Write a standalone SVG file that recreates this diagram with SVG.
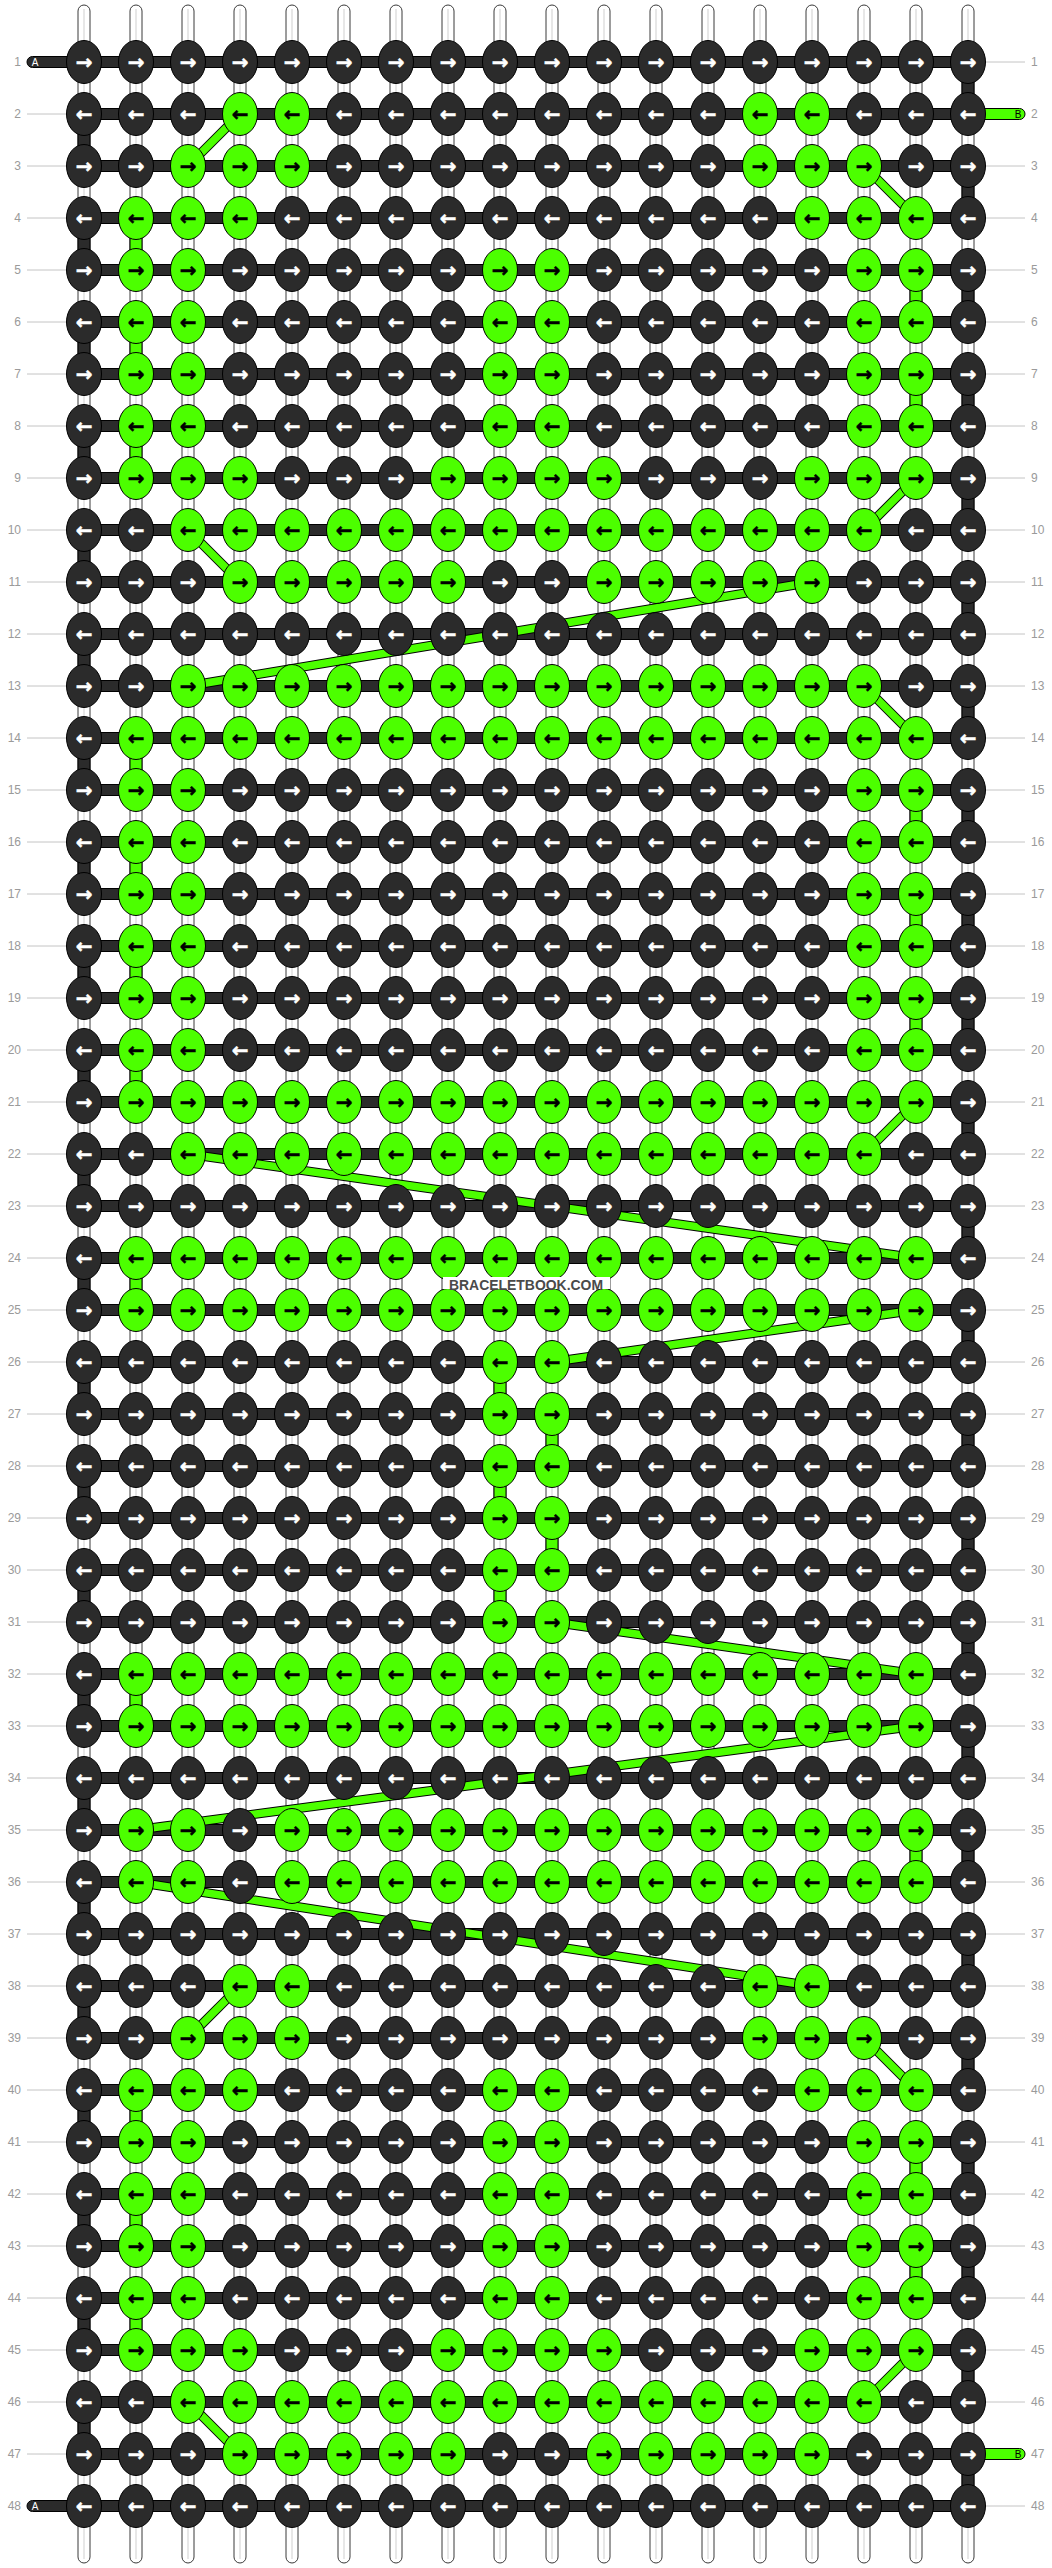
<svg xmlns="http://www.w3.org/2000/svg" width="1052" height="2568" viewBox="0 0 1052 2568">
<style>
.s{fill:#fff;stroke:#3a3a3a;stroke-width:1}
.sc{fill:none;stroke:#cfcfcf;stroke-width:1}
.bar{fill:#2b2b2b;stroke:#000;stroke-width:1}
.av{fill:#2b2b2b;stroke:#000;stroke-width:1}
.bv{fill:#4cff00;stroke:#000;stroke-width:1}
.lo{stroke:#000;stroke-width:9.5;stroke-linecap:butt}
.li{stroke:#4cff00;stroke-width:7.5;stroke-linecap:butt}
.gl{fill:none;stroke:#c4c4c4;stroke-width:1}
.lb{font:12px "Liberation Sans",Arial,sans-serif;fill:#9a9a9a}
.le{text-anchor:end}
#nodes ellipse{rx:17.5px;ry:21.5px;stroke:#000;stroke-width:1}
#nodes text{font:bold 20px "DejaVu Sans",sans-serif;text-anchor:middle;dominant-baseline:central;stroke-width:0.5px}
.d ellipse{fill:#2b2b2b}.g ellipse{fill:#4cff00}
.d text{fill:#fff;stroke:#fff}.g text{fill:#000;stroke:#000}
.tag{font:10px "Liberation Sans",Arial,sans-serif;text-anchor:middle}
</style>
<g id="labels" class="lb">
<path class="gl" d="M27 114H66M27 166H66M27 218H66M27 270H66M27 322H66M27 374H66M27 426H66M27 478H66M27 530H66M27 582H66M27 634H66M27 686H66M27 738H66M27 790H66M27 842H66M27 894H66M27 946H66M27 998H66M27 1050H66M27 1102H66M27 1154H66M27 1206H66M27 1258H66M27 1310H66M27 1362H66M27 1414H66M27 1466H66M27 1518H66M27 1570H66M27 1622H66M27 1674H66M27 1726H66M27 1778H66M27 1830H66M27 1882H66M27 1934H66M27 1986H66M27 2038H66M27 2090H66M27 2142H66M27 2194H66M27 2246H66M27 2298H66M27 2350H66M27 2402H66M27 2454H66"/>
<path class="gl" d="M986 62H1025M986 166H1025M986 218H1025M986 270H1025M986 322H1025M986 374H1025M986 426H1025M986 478H1025M986 530H1025M986 582H1025M986 634H1025M986 686H1025M986 738H1025M986 790H1025M986 842H1025M986 894H1025M986 946H1025M986 998H1025M986 1050H1025M986 1102H1025M986 1154H1025M986 1206H1025M986 1258H1025M986 1310H1025M986 1362H1025M986 1414H1025M986 1466H1025M986 1518H1025M986 1570H1025M986 1622H1025M986 1674H1025M986 1726H1025M986 1778H1025M986 1830H1025M986 1882H1025M986 1934H1025M986 1986H1025M986 2038H1025M986 2090H1025M986 2142H1025M986 2194H1025M986 2246H1025M986 2298H1025M986 2350H1025M986 2402H1025M986 2506H1025"/>
<g class="le">
<text x="21" y="66">1</text><text x="21" y="118">2</text><text x="21" y="170">3</text><text x="21" y="222">4</text><text x="21" y="274">5</text><text x="21" y="326">6</text><text x="21" y="378">7</text><text x="21" y="430">8</text><text x="21" y="482">9</text><text x="21" y="534">10</text><text x="21" y="586">11</text><text x="21" y="638">12</text><text x="21" y="690">13</text><text x="21" y="742">14</text><text x="21" y="794">15</text><text x="21" y="846">16</text><text x="21" y="898">17</text><text x="21" y="950">18</text><text x="21" y="1002">19</text><text x="21" y="1054">20</text><text x="21" y="1106">21</text><text x="21" y="1158">22</text><text x="21" y="1210">23</text><text x="21" y="1262">24</text><text x="21" y="1314">25</text><text x="21" y="1366">26</text><text x="21" y="1418">27</text><text x="21" y="1470">28</text><text x="21" y="1522">29</text><text x="21" y="1574">30</text><text x="21" y="1626">31</text><text x="21" y="1678">32</text><text x="21" y="1730">33</text><text x="21" y="1782">34</text><text x="21" y="1834">35</text><text x="21" y="1886">36</text><text x="21" y="1938">37</text><text x="21" y="1990">38</text><text x="21" y="2042">39</text><text x="21" y="2094">40</text><text x="21" y="2146">41</text><text x="21" y="2198">42</text><text x="21" y="2250">43</text><text x="21" y="2302">44</text><text x="21" y="2354">45</text><text x="21" y="2406">46</text><text x="21" y="2458">47</text><text x="21" y="2510">48</text>
</g>
<g>
<text x="1031" y="66">1</text><text x="1031" y="118">2</text><text x="1031" y="170">3</text><text x="1031" y="222">4</text><text x="1031" y="274">5</text><text x="1031" y="326">6</text><text x="1031" y="378">7</text><text x="1031" y="430">8</text><text x="1031" y="482">9</text><text x="1031" y="534">10</text><text x="1031" y="586">11</text><text x="1031" y="638">12</text><text x="1031" y="690">13</text><text x="1031" y="742">14</text><text x="1031" y="794">15</text><text x="1031" y="846">16</text><text x="1031" y="898">17</text><text x="1031" y="950">18</text><text x="1031" y="1002">19</text><text x="1031" y="1054">20</text><text x="1031" y="1106">21</text><text x="1031" y="1158">22</text><text x="1031" y="1210">23</text><text x="1031" y="1262">24</text><text x="1031" y="1314">25</text><text x="1031" y="1366">26</text><text x="1031" y="1418">27</text><text x="1031" y="1470">28</text><text x="1031" y="1522">29</text><text x="1031" y="1574">30</text><text x="1031" y="1626">31</text><text x="1031" y="1678">32</text><text x="1031" y="1730">33</text><text x="1031" y="1782">34</text><text x="1031" y="1834">35</text><text x="1031" y="1886">36</text><text x="1031" y="1938">37</text><text x="1031" y="1990">38</text><text x="1031" y="2042">39</text><text x="1031" y="2094">40</text><text x="1031" y="2146">41</text><text x="1031" y="2198">42</text><text x="1031" y="2250">43</text><text x="1031" y="2302">44</text><text x="1031" y="2354">45</text><text x="1031" y="2406">46</text><text x="1031" y="2458">47</text><text x="1031" y="2510">48</text>
</g>
</g>
<g id="strings">
<rect class="s" x="78" y="5" width="12" height="2558" rx="6"/><rect class="s" x="130" y="5" width="12" height="2558" rx="6"/><rect class="s" x="182" y="5" width="12" height="2558" rx="6"/><rect class="s" x="234" y="5" width="12" height="2558" rx="6"/><rect class="s" x="286" y="5" width="12" height="2558" rx="6"/><rect class="s" x="338" y="5" width="12" height="2558" rx="6"/><rect class="s" x="390" y="5" width="12" height="2558" rx="6"/><rect class="s" x="442" y="5" width="12" height="2558" rx="6"/><rect class="s" x="494" y="5" width="12" height="2558" rx="6"/><rect class="s" x="546" y="5" width="12" height="2558" rx="6"/><rect class="s" x="598" y="5" width="12" height="2558" rx="6"/><rect class="s" x="650" y="5" width="12" height="2558" rx="6"/><rect class="s" x="702" y="5" width="12" height="2558" rx="6"/><rect class="s" x="754" y="5" width="12" height="2558" rx="6"/><rect class="s" x="806" y="5" width="12" height="2558" rx="6"/><rect class="s" x="858" y="5" width="12" height="2558" rx="6"/><rect class="s" x="910" y="5" width="12" height="2558" rx="6"/><rect class="s" x="962" y="5" width="12" height="2558" rx="6"/>
<path class="sc" d="M84 9V2559M136 9V2559M188 9V2559M240 9V2559M292 9V2559M344 9V2559M396 9V2559M448 9V2559M500 9V2559M552 9V2559M604 9V2559M656 9V2559M708 9V2559M760 9V2559M812 9V2559M864 9V2559M916 9V2559M968 9V2559"/>
</g>
<g id="bars">
<rect class="bar" x="27" y="56.5" width="70" height="11" rx="5.5"/>
<rect class="bar" x="27" y="2500.5" width="70" height="11" rx="5.5"/>
<rect class="bv" x="950" y="108.5" width="75" height="11" rx="5.5"/>
<rect class="bv" x="950" y="2448.5" width="75" height="11" rx="5.5"/>
<rect class="bar" x="84" y="56.5" width="884" height="11"/><rect class="bar" x="84" y="108.5" width="884" height="11"/><rect class="bar" x="84" y="160.5" width="884" height="11"/><rect class="bar" x="84" y="212.5" width="884" height="11"/><rect class="bar" x="84" y="264.5" width="884" height="11"/><rect class="bar" x="84" y="316.5" width="884" height="11"/><rect class="bar" x="84" y="368.5" width="884" height="11"/><rect class="bar" x="84" y="420.5" width="884" height="11"/><rect class="bar" x="84" y="472.5" width="884" height="11"/><rect class="bar" x="84" y="524.5" width="884" height="11"/><rect class="bar" x="84" y="576.5" width="884" height="11"/><rect class="bar" x="84" y="628.5" width="884" height="11"/><rect class="bar" x="84" y="680.5" width="884" height="11"/><rect class="bar" x="84" y="732.5" width="884" height="11"/><rect class="bar" x="84" y="784.5" width="884" height="11"/><rect class="bar" x="84" y="836.5" width="884" height="11"/><rect class="bar" x="84" y="888.5" width="884" height="11"/><rect class="bar" x="84" y="940.5" width="884" height="11"/><rect class="bar" x="84" y="992.5" width="884" height="11"/><rect class="bar" x="84" y="1044.5" width="884" height="11"/><rect class="bar" x="84" y="1096.5" width="884" height="11"/><rect class="bar" x="84" y="1148.5" width="884" height="11"/><rect class="bar" x="84" y="1200.5" width="884" height="11"/><rect class="bar" x="84" y="1252.5" width="884" height="11"/><rect class="bar" x="84" y="1304.5" width="884" height="11"/><rect class="bar" x="84" y="1356.5" width="884" height="11"/><rect class="bar" x="84" y="1408.5" width="884" height="11"/><rect class="bar" x="84" y="1460.5" width="884" height="11"/><rect class="bar" x="84" y="1512.5" width="884" height="11"/><rect class="bar" x="84" y="1564.5" width="884" height="11"/><rect class="bar" x="84" y="1616.5" width="884" height="11"/><rect class="bar" x="84" y="1668.5" width="884" height="11"/><rect class="bar" x="84" y="1720.5" width="884" height="11"/><rect class="bar" x="84" y="1772.5" width="884" height="11"/><rect class="bar" x="84" y="1824.5" width="884" height="11"/><rect class="bar" x="84" y="1876.5" width="884" height="11"/><rect class="bar" x="84" y="1928.5" width="884" height="11"/><rect class="bar" x="84" y="1980.5" width="884" height="11"/><rect class="bar" x="84" y="2032.5" width="884" height="11"/><rect class="bar" x="84" y="2084.5" width="884" height="11"/><rect class="bar" x="84" y="2136.5" width="884" height="11"/><rect class="bar" x="84" y="2188.5" width="884" height="11"/><rect class="bar" x="84" y="2240.5" width="884" height="11"/><rect class="bar" x="84" y="2292.5" width="884" height="11"/><rect class="bar" x="84" y="2344.5" width="884" height="11"/><rect class="bar" x="84" y="2396.5" width="884" height="11"/><rect class="bar" x="84" y="2448.5" width="884" height="11"/><rect class="bar" x="84" y="2500.5" width="884" height="11"/>
<text class="tag" x="35" y="65.5" fill="#fff">A</text>
<text class="tag" x="35" y="2509.5" fill="#fff">A</text>
<text class="tag" x="1018" y="117.5" fill="#000">B</text>
<text class="tag" x="1018" y="2457.5" fill="#000">B</text>
</g>
<g id="connectors">
<g id="turnsA">
<rect class="av" x="962" y="62" width="12" height="52"/><rect class="av" x="962" y="166" width="12" height="52"/><rect class="av" x="962" y="270" width="12" height="52"/><rect class="av" x="962" y="374" width="12" height="52"/><rect class="av" x="962" y="478" width="12" height="52"/><rect class="av" x="962" y="582" width="12" height="52"/><rect class="av" x="962" y="686" width="12" height="52"/><rect class="av" x="962" y="790" width="12" height="52"/><rect class="av" x="962" y="894" width="12" height="52"/><rect class="av" x="962" y="998" width="12" height="52"/><rect class="av" x="962" y="1102" width="12" height="52"/><rect class="av" x="962" y="1206" width="12" height="52"/><rect class="av" x="962" y="1310" width="12" height="52"/><rect class="av" x="962" y="1414" width="12" height="52"/><rect class="av" x="962" y="1518" width="12" height="52"/><rect class="av" x="962" y="1622" width="12" height="52"/><rect class="av" x="962" y="1726" width="12" height="52"/><rect class="av" x="962" y="1830" width="12" height="52"/><rect class="av" x="962" y="1934" width="12" height="52"/><rect class="av" x="962" y="2038" width="12" height="52"/><rect class="av" x="962" y="2142" width="12" height="52"/><rect class="av" x="962" y="2246" width="12" height="52"/><rect class="av" x="962" y="2350" width="12" height="52"/><rect class="av" x="962" y="2454" width="12" height="52"/>
<rect class="av" x="78" y="114" width="12" height="52"/><rect class="av" x="78" y="218" width="12" height="52"/><rect class="av" x="78" y="322" width="12" height="52"/><rect class="av" x="78" y="426" width="12" height="52"/><rect class="av" x="78" y="530" width="12" height="52"/><rect class="av" x="78" y="634" width="12" height="52"/><rect class="av" x="78" y="738" width="12" height="52"/><rect class="av" x="78" y="842" width="12" height="52"/><rect class="av" x="78" y="946" width="12" height="52"/><rect class="av" x="78" y="1050" width="12" height="52"/><rect class="av" x="78" y="1154" width="12" height="52"/><rect class="av" x="78" y="1258" width="12" height="52"/><rect class="av" x="78" y="1362" width="12" height="52"/><rect class="av" x="78" y="1466" width="12" height="52"/><rect class="av" x="78" y="1570" width="12" height="52"/><rect class="av" x="78" y="1674" width="12" height="52"/><rect class="av" x="78" y="1778" width="12" height="52"/><rect class="av" x="78" y="1882" width="12" height="52"/><rect class="av" x="78" y="1986" width="12" height="52"/><rect class="av" x="78" y="2090" width="12" height="52"/><rect class="av" x="78" y="2194" width="12" height="52"/><rect class="av" x="78" y="2298" width="12" height="52"/><rect class="av" x="78" y="2402" width="12" height="52"/>
</g>
<g id="turnsB">
<rect class="bv" x="130" y="218" width="12" height="52"/><rect class="bv" x="130" y="322" width="12" height="52"/><rect class="bv" x="130" y="426" width="12" height="52"/><rect class="bv" x="130" y="738" width="12" height="52"/><rect class="bv" x="130" y="842" width="12" height="52"/><rect class="bv" x="130" y="946" width="12" height="52"/><rect class="bv" x="130" y="1050" width="12" height="52"/><rect class="bv" x="130" y="1258" width="12" height="52"/><rect class="bv" x="130" y="1674" width="12" height="52"/><rect class="bv" x="130" y="2090" width="12" height="52"/><rect class="bv" x="130" y="2194" width="12" height="52"/><rect class="bv" x="130" y="2298" width="12" height="52"/>
<rect class="bv" x="910" y="270" width="12" height="52"/><rect class="bv" x="910" y="374" width="12" height="52"/><rect class="bv" x="910" y="790" width="12" height="52"/><rect class="bv" x="910" y="894" width="12" height="52"/><rect class="bv" x="910" y="998" width="12" height="52"/><rect class="bv" x="910" y="1830" width="12" height="52"/><rect class="bv" x="910" y="2142" width="12" height="52"/><rect class="bv" x="910" y="2246" width="12" height="52"/>
<rect class="bv" x="494" y="1362" width="12" height="52"/><rect class="bv" x="494" y="1466" width="12" height="52"/><rect class="bv" x="494" y="1570" width="12" height="52"/>
<rect class="bv" x="546" y="1414" width="12" height="52"/><rect class="bv" x="546" y="1518" width="12" height="52"/>
</g>
<g id="diagonals">
<g id="c1"><line class="lo" x1="240" y1="114" x2="188" y2="166"/><line class="li" x1="240" y1="114" x2="188" y2="166"/></g>
<g id="c2"><line class="lo" x1="864" y1="166" x2="916" y2="218"/><line class="li" x1="864" y1="166" x2="916" y2="218"/></g>
<g id="c3"><line class="lo" x1="916" y1="478" x2="864" y2="530"/><line class="li" x1="916" y1="478" x2="864" y2="530"/></g>
<g id="c4"><line class="lo" x1="188" y1="530" x2="240" y2="582"/><line class="li" x1="188" y1="530" x2="240" y2="582"/></g>
<g id="c5"><line class="lo" x1="812" y1="582" x2="188" y2="686"/><line class="li" x1="812" y1="582" x2="188" y2="686"/></g>
<g id="c6"><line class="lo" x1="864" y1="686" x2="916" y2="738"/><line class="li" x1="864" y1="686" x2="916" y2="738"/></g>
<g id="c7"><line class="lo" x1="916" y1="1102" x2="864" y2="1154"/><line class="li" x1="916" y1="1102" x2="864" y2="1154"/></g>
<g id="c8"><line class="lo" x1="188" y1="1154" x2="916" y2="1258"/><line class="li" x1="188" y1="1154" x2="916" y2="1258"/></g>
<g id="c9"><line class="lo" x1="916" y1="1310" x2="552" y2="1362"/><line class="li" x1="916" y1="1310" x2="552" y2="1362"/></g>
<g id="c10"><line class="lo" x1="552" y1="1622" x2="916" y2="1674"/><line class="li" x1="552" y1="1622" x2="916" y2="1674"/></g>
<g id="c11"><line class="lo" x1="916" y1="1726" x2="136" y2="1830"/><line class="li" x1="916" y1="1726" x2="136" y2="1830"/></g>
<g id="c12"><line class="lo" x1="136" y1="1882" x2="812" y2="1986"/><line class="li" x1="136" y1="1882" x2="812" y2="1986"/></g>
<g id="c13"><line class="lo" x1="240" y1="1986" x2="188" y2="2038"/><line class="li" x1="240" y1="1986" x2="188" y2="2038"/></g>
<g id="c14"><line class="lo" x1="864" y1="2038" x2="916" y2="2090"/><line class="li" x1="864" y1="2038" x2="916" y2="2090"/></g>
<g id="c15"><line class="lo" x1="916" y1="2350" x2="864" y2="2402"/><line class="li" x1="916" y1="2350" x2="864" y2="2402"/></g>
<g id="c16"><line class="lo" x1="188" y1="2402" x2="240" y2="2454"/><line class="li" x1="188" y1="2402" x2="240" y2="2454"/></g>
</g>
</g>
<g id="nodes">
<g id="row1" transform="translate(0,62)"><g id="n1-1" class="d" transform="translate(84)"><ellipse/><text>→</text></g><g id="n1-2" class="d" transform="translate(136)"><ellipse/><text>→</text></g><g id="n1-3" class="d" transform="translate(188)"><ellipse/><text>→</text></g><g id="n1-4" class="d" transform="translate(240)"><ellipse/><text>→</text></g><g id="n1-5" class="d" transform="translate(292)"><ellipse/><text>→</text></g><g id="n1-6" class="d" transform="translate(344)"><ellipse/><text>→</text></g><g id="n1-7" class="d" transform="translate(396)"><ellipse/><text>→</text></g><g id="n1-8" class="d" transform="translate(448)"><ellipse/><text>→</text></g><g id="n1-9" class="d" transform="translate(500)"><ellipse/><text>→</text></g><g id="n1-10" class="d" transform="translate(552)"><ellipse/><text>→</text></g><g id="n1-11" class="d" transform="translate(604)"><ellipse/><text>→</text></g><g id="n1-12" class="d" transform="translate(656)"><ellipse/><text>→</text></g><g id="n1-13" class="d" transform="translate(708)"><ellipse/><text>→</text></g><g id="n1-14" class="d" transform="translate(760)"><ellipse/><text>→</text></g><g id="n1-15" class="d" transform="translate(812)"><ellipse/><text>→</text></g><g id="n1-16" class="d" transform="translate(864)"><ellipse/><text>→</text></g><g id="n1-17" class="d" transform="translate(916)"><ellipse/><text>→</text></g><g id="n1-18" class="d" transform="translate(968)"><ellipse/><text>→</text></g></g>
<g id="row2" transform="translate(0,114)"><g id="n2-1" class="d" transform="translate(84)"><ellipse/><text>←</text></g><g id="n2-2" class="d" transform="translate(136)"><ellipse/><text>←</text></g><g id="n2-3" class="d" transform="translate(188)"><ellipse/><text>←</text></g><g id="n2-4" class="g" transform="translate(240)"><ellipse/><text>←</text></g><g id="n2-5" class="g" transform="translate(292)"><ellipse/><text>←</text></g><g id="n2-6" class="d" transform="translate(344)"><ellipse/><text>←</text></g><g id="n2-7" class="d" transform="translate(396)"><ellipse/><text>←</text></g><g id="n2-8" class="d" transform="translate(448)"><ellipse/><text>←</text></g><g id="n2-9" class="d" transform="translate(500)"><ellipse/><text>←</text></g><g id="n2-10" class="d" transform="translate(552)"><ellipse/><text>←</text></g><g id="n2-11" class="d" transform="translate(604)"><ellipse/><text>←</text></g><g id="n2-12" class="d" transform="translate(656)"><ellipse/><text>←</text></g><g id="n2-13" class="d" transform="translate(708)"><ellipse/><text>←</text></g><g id="n2-14" class="g" transform="translate(760)"><ellipse/><text>←</text></g><g id="n2-15" class="g" transform="translate(812)"><ellipse/><text>←</text></g><g id="n2-16" class="d" transform="translate(864)"><ellipse/><text>←</text></g><g id="n2-17" class="d" transform="translate(916)"><ellipse/><text>←</text></g><g id="n2-18" class="d" transform="translate(968)"><ellipse/><text>←</text></g></g>
<g id="row3" transform="translate(0,166)"><g id="n3-1" class="d" transform="translate(84)"><ellipse/><text>→</text></g><g id="n3-2" class="d" transform="translate(136)"><ellipse/><text>→</text></g><g id="n3-3" class="g" transform="translate(188)"><ellipse/><text>→</text></g><g id="n3-4" class="g" transform="translate(240)"><ellipse/><text>→</text></g><g id="n3-5" class="g" transform="translate(292)"><ellipse/><text>→</text></g><g id="n3-6" class="d" transform="translate(344)"><ellipse/><text>→</text></g><g id="n3-7" class="d" transform="translate(396)"><ellipse/><text>→</text></g><g id="n3-8" class="d" transform="translate(448)"><ellipse/><text>→</text></g><g id="n3-9" class="d" transform="translate(500)"><ellipse/><text>→</text></g><g id="n3-10" class="d" transform="translate(552)"><ellipse/><text>→</text></g><g id="n3-11" class="d" transform="translate(604)"><ellipse/><text>→</text></g><g id="n3-12" class="d" transform="translate(656)"><ellipse/><text>→</text></g><g id="n3-13" class="d" transform="translate(708)"><ellipse/><text>→</text></g><g id="n3-14" class="g" transform="translate(760)"><ellipse/><text>→</text></g><g id="n3-15" class="g" transform="translate(812)"><ellipse/><text>→</text></g><g id="n3-16" class="g" transform="translate(864)"><ellipse/><text>→</text></g><g id="n3-17" class="d" transform="translate(916)"><ellipse/><text>→</text></g><g id="n3-18" class="d" transform="translate(968)"><ellipse/><text>→</text></g></g>
<g id="row4" transform="translate(0,218)"><g id="n4-1" class="d" transform="translate(84)"><ellipse/><text>←</text></g><g id="n4-2" class="g" transform="translate(136)"><ellipse/><text>←</text></g><g id="n4-3" class="g" transform="translate(188)"><ellipse/><text>←</text></g><g id="n4-4" class="g" transform="translate(240)"><ellipse/><text>←</text></g><g id="n4-5" class="d" transform="translate(292)"><ellipse/><text>←</text></g><g id="n4-6" class="d" transform="translate(344)"><ellipse/><text>←</text></g><g id="n4-7" class="d" transform="translate(396)"><ellipse/><text>←</text></g><g id="n4-8" class="d" transform="translate(448)"><ellipse/><text>←</text></g><g id="n4-9" class="d" transform="translate(500)"><ellipse/><text>←</text></g><g id="n4-10" class="d" transform="translate(552)"><ellipse/><text>←</text></g><g id="n4-11" class="d" transform="translate(604)"><ellipse/><text>←</text></g><g id="n4-12" class="d" transform="translate(656)"><ellipse/><text>←</text></g><g id="n4-13" class="d" transform="translate(708)"><ellipse/><text>←</text></g><g id="n4-14" class="d" transform="translate(760)"><ellipse/><text>←</text></g><g id="n4-15" class="g" transform="translate(812)"><ellipse/><text>←</text></g><g id="n4-16" class="g" transform="translate(864)"><ellipse/><text>←</text></g><g id="n4-17" class="g" transform="translate(916)"><ellipse/><text>←</text></g><g id="n4-18" class="d" transform="translate(968)"><ellipse/><text>←</text></g></g>
<g id="row5" transform="translate(0,270)"><g id="n5-1" class="d" transform="translate(84)"><ellipse/><text>→</text></g><g id="n5-2" class="g" transform="translate(136)"><ellipse/><text>→</text></g><g id="n5-3" class="g" transform="translate(188)"><ellipse/><text>→</text></g><g id="n5-4" class="d" transform="translate(240)"><ellipse/><text>→</text></g><g id="n5-5" class="d" transform="translate(292)"><ellipse/><text>→</text></g><g id="n5-6" class="d" transform="translate(344)"><ellipse/><text>→</text></g><g id="n5-7" class="d" transform="translate(396)"><ellipse/><text>→</text></g><g id="n5-8" class="d" transform="translate(448)"><ellipse/><text>→</text></g><g id="n5-9" class="g" transform="translate(500)"><ellipse/><text>→</text></g><g id="n5-10" class="g" transform="translate(552)"><ellipse/><text>→</text></g><g id="n5-11" class="d" transform="translate(604)"><ellipse/><text>→</text></g><g id="n5-12" class="d" transform="translate(656)"><ellipse/><text>→</text></g><g id="n5-13" class="d" transform="translate(708)"><ellipse/><text>→</text></g><g id="n5-14" class="d" transform="translate(760)"><ellipse/><text>→</text></g><g id="n5-15" class="d" transform="translate(812)"><ellipse/><text>→</text></g><g id="n5-16" class="g" transform="translate(864)"><ellipse/><text>→</text></g><g id="n5-17" class="g" transform="translate(916)"><ellipse/><text>→</text></g><g id="n5-18" class="d" transform="translate(968)"><ellipse/><text>→</text></g></g>
<g id="row6" transform="translate(0,322)"><g id="n6-1" class="d" transform="translate(84)"><ellipse/><text>←</text></g><g id="n6-2" class="g" transform="translate(136)"><ellipse/><text>←</text></g><g id="n6-3" class="g" transform="translate(188)"><ellipse/><text>←</text></g><g id="n6-4" class="d" transform="translate(240)"><ellipse/><text>←</text></g><g id="n6-5" class="d" transform="translate(292)"><ellipse/><text>←</text></g><g id="n6-6" class="d" transform="translate(344)"><ellipse/><text>←</text></g><g id="n6-7" class="d" transform="translate(396)"><ellipse/><text>←</text></g><g id="n6-8" class="d" transform="translate(448)"><ellipse/><text>←</text></g><g id="n6-9" class="g" transform="translate(500)"><ellipse/><text>←</text></g><g id="n6-10" class="g" transform="translate(552)"><ellipse/><text>←</text></g><g id="n6-11" class="d" transform="translate(604)"><ellipse/><text>←</text></g><g id="n6-12" class="d" transform="translate(656)"><ellipse/><text>←</text></g><g id="n6-13" class="d" transform="translate(708)"><ellipse/><text>←</text></g><g id="n6-14" class="d" transform="translate(760)"><ellipse/><text>←</text></g><g id="n6-15" class="d" transform="translate(812)"><ellipse/><text>←</text></g><g id="n6-16" class="g" transform="translate(864)"><ellipse/><text>←</text></g><g id="n6-17" class="g" transform="translate(916)"><ellipse/><text>←</text></g><g id="n6-18" class="d" transform="translate(968)"><ellipse/><text>←</text></g></g>
<g id="row7" transform="translate(0,374)"><g id="n7-1" class="d" transform="translate(84)"><ellipse/><text>→</text></g><g id="n7-2" class="g" transform="translate(136)"><ellipse/><text>→</text></g><g id="n7-3" class="g" transform="translate(188)"><ellipse/><text>→</text></g><g id="n7-4" class="d" transform="translate(240)"><ellipse/><text>→</text></g><g id="n7-5" class="d" transform="translate(292)"><ellipse/><text>→</text></g><g id="n7-6" class="d" transform="translate(344)"><ellipse/><text>→</text></g><g id="n7-7" class="d" transform="translate(396)"><ellipse/><text>→</text></g><g id="n7-8" class="d" transform="translate(448)"><ellipse/><text>→</text></g><g id="n7-9" class="g" transform="translate(500)"><ellipse/><text>→</text></g><g id="n7-10" class="g" transform="translate(552)"><ellipse/><text>→</text></g><g id="n7-11" class="d" transform="translate(604)"><ellipse/><text>→</text></g><g id="n7-12" class="d" transform="translate(656)"><ellipse/><text>→</text></g><g id="n7-13" class="d" transform="translate(708)"><ellipse/><text>→</text></g><g id="n7-14" class="d" transform="translate(760)"><ellipse/><text>→</text></g><g id="n7-15" class="d" transform="translate(812)"><ellipse/><text>→</text></g><g id="n7-16" class="g" transform="translate(864)"><ellipse/><text>→</text></g><g id="n7-17" class="g" transform="translate(916)"><ellipse/><text>→</text></g><g id="n7-18" class="d" transform="translate(968)"><ellipse/><text>→</text></g></g>
<g id="row8" transform="translate(0,426)"><g id="n8-1" class="d" transform="translate(84)"><ellipse/><text>←</text></g><g id="n8-2" class="g" transform="translate(136)"><ellipse/><text>←</text></g><g id="n8-3" class="g" transform="translate(188)"><ellipse/><text>←</text></g><g id="n8-4" class="d" transform="translate(240)"><ellipse/><text>←</text></g><g id="n8-5" class="d" transform="translate(292)"><ellipse/><text>←</text></g><g id="n8-6" class="d" transform="translate(344)"><ellipse/><text>←</text></g><g id="n8-7" class="d" transform="translate(396)"><ellipse/><text>←</text></g><g id="n8-8" class="d" transform="translate(448)"><ellipse/><text>←</text></g><g id="n8-9" class="g" transform="translate(500)"><ellipse/><text>←</text></g><g id="n8-10" class="g" transform="translate(552)"><ellipse/><text>←</text></g><g id="n8-11" class="d" transform="translate(604)"><ellipse/><text>←</text></g><g id="n8-12" class="d" transform="translate(656)"><ellipse/><text>←</text></g><g id="n8-13" class="d" transform="translate(708)"><ellipse/><text>←</text></g><g id="n8-14" class="d" transform="translate(760)"><ellipse/><text>←</text></g><g id="n8-15" class="d" transform="translate(812)"><ellipse/><text>←</text></g><g id="n8-16" class="g" transform="translate(864)"><ellipse/><text>←</text></g><g id="n8-17" class="g" transform="translate(916)"><ellipse/><text>←</text></g><g id="n8-18" class="d" transform="translate(968)"><ellipse/><text>←</text></g></g>
<g id="row9" transform="translate(0,478)"><g id="n9-1" class="d" transform="translate(84)"><ellipse/><text>→</text></g><g id="n9-2" class="g" transform="translate(136)"><ellipse/><text>→</text></g><g id="n9-3" class="g" transform="translate(188)"><ellipse/><text>→</text></g><g id="n9-4" class="g" transform="translate(240)"><ellipse/><text>→</text></g><g id="n9-5" class="d" transform="translate(292)"><ellipse/><text>→</text></g><g id="n9-6" class="d" transform="translate(344)"><ellipse/><text>→</text></g><g id="n9-7" class="d" transform="translate(396)"><ellipse/><text>→</text></g><g id="n9-8" class="g" transform="translate(448)"><ellipse/><text>→</text></g><g id="n9-9" class="g" transform="translate(500)"><ellipse/><text>→</text></g><g id="n9-10" class="g" transform="translate(552)"><ellipse/><text>→</text></g><g id="n9-11" class="g" transform="translate(604)"><ellipse/><text>→</text></g><g id="n9-12" class="d" transform="translate(656)"><ellipse/><text>→</text></g><g id="n9-13" class="d" transform="translate(708)"><ellipse/><text>→</text></g><g id="n9-14" class="d" transform="translate(760)"><ellipse/><text>→</text></g><g id="n9-15" class="g" transform="translate(812)"><ellipse/><text>→</text></g><g id="n9-16" class="g" transform="translate(864)"><ellipse/><text>→</text></g><g id="n9-17" class="g" transform="translate(916)"><ellipse/><text>→</text></g><g id="n9-18" class="d" transform="translate(968)"><ellipse/><text>→</text></g></g>
<g id="row10" transform="translate(0,530)"><g id="n10-1" class="d" transform="translate(84)"><ellipse/><text>←</text></g><g id="n10-2" class="d" transform="translate(136)"><ellipse/><text>←</text></g><g id="n10-3" class="g" transform="translate(188)"><ellipse/><text>←</text></g><g id="n10-4" class="g" transform="translate(240)"><ellipse/><text>←</text></g><g id="n10-5" class="g" transform="translate(292)"><ellipse/><text>←</text></g><g id="n10-6" class="g" transform="translate(344)"><ellipse/><text>←</text></g><g id="n10-7" class="g" transform="translate(396)"><ellipse/><text>←</text></g><g id="n10-8" class="g" transform="translate(448)"><ellipse/><text>←</text></g><g id="n10-9" class="g" transform="translate(500)"><ellipse/><text>←</text></g><g id="n10-10" class="g" transform="translate(552)"><ellipse/><text>←</text></g><g id="n10-11" class="g" transform="translate(604)"><ellipse/><text>←</text></g><g id="n10-12" class="g" transform="translate(656)"><ellipse/><text>←</text></g><g id="n10-13" class="g" transform="translate(708)"><ellipse/><text>←</text></g><g id="n10-14" class="g" transform="translate(760)"><ellipse/><text>←</text></g><g id="n10-15" class="g" transform="translate(812)"><ellipse/><text>←</text></g><g id="n10-16" class="g" transform="translate(864)"><ellipse/><text>←</text></g><g id="n10-17" class="d" transform="translate(916)"><ellipse/><text>←</text></g><g id="n10-18" class="d" transform="translate(968)"><ellipse/><text>←</text></g></g>
<g id="row11" transform="translate(0,582)"><g id="n11-1" class="d" transform="translate(84)"><ellipse/><text>→</text></g><g id="n11-2" class="d" transform="translate(136)"><ellipse/><text>→</text></g><g id="n11-3" class="d" transform="translate(188)"><ellipse/><text>→</text></g><g id="n11-4" class="g" transform="translate(240)"><ellipse/><text>→</text></g><g id="n11-5" class="g" transform="translate(292)"><ellipse/><text>→</text></g><g id="n11-6" class="g" transform="translate(344)"><ellipse/><text>→</text></g><g id="n11-7" class="g" transform="translate(396)"><ellipse/><text>→</text></g><g id="n11-8" class="g" transform="translate(448)"><ellipse/><text>→</text></g><g id="n11-9" class="d" transform="translate(500)"><ellipse/><text>→</text></g><g id="n11-10" class="d" transform="translate(552)"><ellipse/><text>→</text></g><g id="n11-11" class="g" transform="translate(604)"><ellipse/><text>→</text></g><g id="n11-12" class="g" transform="translate(656)"><ellipse/><text>→</text></g><g id="n11-13" class="g" transform="translate(708)"><ellipse/><text>→</text></g><g id="n11-14" class="g" transform="translate(760)"><ellipse/><text>→</text></g><g id="n11-15" class="g" transform="translate(812)"><ellipse/><text>→</text></g><g id="n11-16" class="d" transform="translate(864)"><ellipse/><text>→</text></g><g id="n11-17" class="d" transform="translate(916)"><ellipse/><text>→</text></g><g id="n11-18" class="d" transform="translate(968)"><ellipse/><text>→</text></g></g>
<g id="row12" transform="translate(0,634)"><g id="n12-1" class="d" transform="translate(84)"><ellipse/><text>←</text></g><g id="n12-2" class="d" transform="translate(136)"><ellipse/><text>←</text></g><g id="n12-3" class="d" transform="translate(188)"><ellipse/><text>←</text></g><g id="n12-4" class="d" transform="translate(240)"><ellipse/><text>←</text></g><g id="n12-5" class="d" transform="translate(292)"><ellipse/><text>←</text></g><g id="n12-6" class="d" transform="translate(344)"><ellipse/><text>←</text></g><g id="n12-7" class="d" transform="translate(396)"><ellipse/><text>←</text></g><g id="n12-8" class="d" transform="translate(448)"><ellipse/><text>←</text></g><g id="n12-9" class="d" transform="translate(500)"><ellipse/><text>←</text></g><g id="n12-10" class="d" transform="translate(552)"><ellipse/><text>←</text></g><g id="n12-11" class="d" transform="translate(604)"><ellipse/><text>←</text></g><g id="n12-12" class="d" transform="translate(656)"><ellipse/><text>←</text></g><g id="n12-13" class="d" transform="translate(708)"><ellipse/><text>←</text></g><g id="n12-14" class="d" transform="translate(760)"><ellipse/><text>←</text></g><g id="n12-15" class="d" transform="translate(812)"><ellipse/><text>←</text></g><g id="n12-16" class="d" transform="translate(864)"><ellipse/><text>←</text></g><g id="n12-17" class="d" transform="translate(916)"><ellipse/><text>←</text></g><g id="n12-18" class="d" transform="translate(968)"><ellipse/><text>←</text></g></g>
<g id="row13" transform="translate(0,686)"><g id="n13-1" class="d" transform="translate(84)"><ellipse/><text>→</text></g><g id="n13-2" class="d" transform="translate(136)"><ellipse/><text>→</text></g><g id="n13-3" class="g" transform="translate(188)"><ellipse/><text>→</text></g><g id="n13-4" class="g" transform="translate(240)"><ellipse/><text>→</text></g><g id="n13-5" class="g" transform="translate(292)"><ellipse/><text>→</text></g><g id="n13-6" class="g" transform="translate(344)"><ellipse/><text>→</text></g><g id="n13-7" class="g" transform="translate(396)"><ellipse/><text>→</text></g><g id="n13-8" class="g" transform="translate(448)"><ellipse/><text>→</text></g><g id="n13-9" class="g" transform="translate(500)"><ellipse/><text>→</text></g><g id="n13-10" class="g" transform="translate(552)"><ellipse/><text>→</text></g><g id="n13-11" class="g" transform="translate(604)"><ellipse/><text>→</text></g><g id="n13-12" class="g" transform="translate(656)"><ellipse/><text>→</text></g><g id="n13-13" class="g" transform="translate(708)"><ellipse/><text>→</text></g><g id="n13-14" class="g" transform="translate(760)"><ellipse/><text>→</text></g><g id="n13-15" class="g" transform="translate(812)"><ellipse/><text>→</text></g><g id="n13-16" class="g" transform="translate(864)"><ellipse/><text>→</text></g><g id="n13-17" class="d" transform="translate(916)"><ellipse/><text>→</text></g><g id="n13-18" class="d" transform="translate(968)"><ellipse/><text>→</text></g></g>
<g id="row14" transform="translate(0,738)"><g id="n14-1" class="d" transform="translate(84)"><ellipse/><text>←</text></g><g id="n14-2" class="g" transform="translate(136)"><ellipse/><text>←</text></g><g id="n14-3" class="g" transform="translate(188)"><ellipse/><text>←</text></g><g id="n14-4" class="g" transform="translate(240)"><ellipse/><text>←</text></g><g id="n14-5" class="g" transform="translate(292)"><ellipse/><text>←</text></g><g id="n14-6" class="g" transform="translate(344)"><ellipse/><text>←</text></g><g id="n14-7" class="g" transform="translate(396)"><ellipse/><text>←</text></g><g id="n14-8" class="g" transform="translate(448)"><ellipse/><text>←</text></g><g id="n14-9" class="g" transform="translate(500)"><ellipse/><text>←</text></g><g id="n14-10" class="g" transform="translate(552)"><ellipse/><text>←</text></g><g id="n14-11" class="g" transform="translate(604)"><ellipse/><text>←</text></g><g id="n14-12" class="g" transform="translate(656)"><ellipse/><text>←</text></g><g id="n14-13" class="g" transform="translate(708)"><ellipse/><text>←</text></g><g id="n14-14" class="g" transform="translate(760)"><ellipse/><text>←</text></g><g id="n14-15" class="g" transform="translate(812)"><ellipse/><text>←</text></g><g id="n14-16" class="g" transform="translate(864)"><ellipse/><text>←</text></g><g id="n14-17" class="g" transform="translate(916)"><ellipse/><text>←</text></g><g id="n14-18" class="d" transform="translate(968)"><ellipse/><text>←</text></g></g>
<g id="row15" transform="translate(0,790)"><g id="n15-1" class="d" transform="translate(84)"><ellipse/><text>→</text></g><g id="n15-2" class="g" transform="translate(136)"><ellipse/><text>→</text></g><g id="n15-3" class="g" transform="translate(188)"><ellipse/><text>→</text></g><g id="n15-4" class="d" transform="translate(240)"><ellipse/><text>→</text></g><g id="n15-5" class="d" transform="translate(292)"><ellipse/><text>→</text></g><g id="n15-6" class="d" transform="translate(344)"><ellipse/><text>→</text></g><g id="n15-7" class="d" transform="translate(396)"><ellipse/><text>→</text></g><g id="n15-8" class="d" transform="translate(448)"><ellipse/><text>→</text></g><g id="n15-9" class="d" transform="translate(500)"><ellipse/><text>→</text></g><g id="n15-10" class="d" transform="translate(552)"><ellipse/><text>→</text></g><g id="n15-11" class="d" transform="translate(604)"><ellipse/><text>→</text></g><g id="n15-12" class="d" transform="translate(656)"><ellipse/><text>→</text></g><g id="n15-13" class="d" transform="translate(708)"><ellipse/><text>→</text></g><g id="n15-14" class="d" transform="translate(760)"><ellipse/><text>→</text></g><g id="n15-15" class="d" transform="translate(812)"><ellipse/><text>→</text></g><g id="n15-16" class="g" transform="translate(864)"><ellipse/><text>→</text></g><g id="n15-17" class="g" transform="translate(916)"><ellipse/><text>→</text></g><g id="n15-18" class="d" transform="translate(968)"><ellipse/><text>→</text></g></g>
<g id="row16" transform="translate(0,842)"><g id="n16-1" class="d" transform="translate(84)"><ellipse/><text>←</text></g><g id="n16-2" class="g" transform="translate(136)"><ellipse/><text>←</text></g><g id="n16-3" class="g" transform="translate(188)"><ellipse/><text>←</text></g><g id="n16-4" class="d" transform="translate(240)"><ellipse/><text>←</text></g><g id="n16-5" class="d" transform="translate(292)"><ellipse/><text>←</text></g><g id="n16-6" class="d" transform="translate(344)"><ellipse/><text>←</text></g><g id="n16-7" class="d" transform="translate(396)"><ellipse/><text>←</text></g><g id="n16-8" class="d" transform="translate(448)"><ellipse/><text>←</text></g><g id="n16-9" class="d" transform="translate(500)"><ellipse/><text>←</text></g><g id="n16-10" class="d" transform="translate(552)"><ellipse/><text>←</text></g><g id="n16-11" class="d" transform="translate(604)"><ellipse/><text>←</text></g><g id="n16-12" class="d" transform="translate(656)"><ellipse/><text>←</text></g><g id="n16-13" class="d" transform="translate(708)"><ellipse/><text>←</text></g><g id="n16-14" class="d" transform="translate(760)"><ellipse/><text>←</text></g><g id="n16-15" class="d" transform="translate(812)"><ellipse/><text>←</text></g><g id="n16-16" class="g" transform="translate(864)"><ellipse/><text>←</text></g><g id="n16-17" class="g" transform="translate(916)"><ellipse/><text>←</text></g><g id="n16-18" class="d" transform="translate(968)"><ellipse/><text>←</text></g></g>
<g id="row17" transform="translate(0,894)"><g id="n17-1" class="d" transform="translate(84)"><ellipse/><text>→</text></g><g id="n17-2" class="g" transform="translate(136)"><ellipse/><text>→</text></g><g id="n17-3" class="g" transform="translate(188)"><ellipse/><text>→</text></g><g id="n17-4" class="d" transform="translate(240)"><ellipse/><text>→</text></g><g id="n17-5" class="d" transform="translate(292)"><ellipse/><text>→</text></g><g id="n17-6" class="d" transform="translate(344)"><ellipse/><text>→</text></g><g id="n17-7" class="d" transform="translate(396)"><ellipse/><text>→</text></g><g id="n17-8" class="d" transform="translate(448)"><ellipse/><text>→</text></g><g id="n17-9" class="d" transform="translate(500)"><ellipse/><text>→</text></g><g id="n17-10" class="d" transform="translate(552)"><ellipse/><text>→</text></g><g id="n17-11" class="d" transform="translate(604)"><ellipse/><text>→</text></g><g id="n17-12" class="d" transform="translate(656)"><ellipse/><text>→</text></g><g id="n17-13" class="d" transform="translate(708)"><ellipse/><text>→</text></g><g id="n17-14" class="d" transform="translate(760)"><ellipse/><text>→</text></g><g id="n17-15" class="d" transform="translate(812)"><ellipse/><text>→</text></g><g id="n17-16" class="g" transform="translate(864)"><ellipse/><text>→</text></g><g id="n17-17" class="g" transform="translate(916)"><ellipse/><text>→</text></g><g id="n17-18" class="d" transform="translate(968)"><ellipse/><text>→</text></g></g>
<g id="row18" transform="translate(0,946)"><g id="n18-1" class="d" transform="translate(84)"><ellipse/><text>←</text></g><g id="n18-2" class="g" transform="translate(136)"><ellipse/><text>←</text></g><g id="n18-3" class="g" transform="translate(188)"><ellipse/><text>←</text></g><g id="n18-4" class="d" transform="translate(240)"><ellipse/><text>←</text></g><g id="n18-5" class="d" transform="translate(292)"><ellipse/><text>←</text></g><g id="n18-6" class="d" transform="translate(344)"><ellipse/><text>←</text></g><g id="n18-7" class="d" transform="translate(396)"><ellipse/><text>←</text></g><g id="n18-8" class="d" transform="translate(448)"><ellipse/><text>←</text></g><g id="n18-9" class="d" transform="translate(500)"><ellipse/><text>←</text></g><g id="n18-10" class="d" transform="translate(552)"><ellipse/><text>←</text></g><g id="n18-11" class="d" transform="translate(604)"><ellipse/><text>←</text></g><g id="n18-12" class="d" transform="translate(656)"><ellipse/><text>←</text></g><g id="n18-13" class="d" transform="translate(708)"><ellipse/><text>←</text></g><g id="n18-14" class="d" transform="translate(760)"><ellipse/><text>←</text></g><g id="n18-15" class="d" transform="translate(812)"><ellipse/><text>←</text></g><g id="n18-16" class="g" transform="translate(864)"><ellipse/><text>←</text></g><g id="n18-17" class="g" transform="translate(916)"><ellipse/><text>←</text></g><g id="n18-18" class="d" transform="translate(968)"><ellipse/><text>←</text></g></g>
<g id="row19" transform="translate(0,998)"><g id="n19-1" class="d" transform="translate(84)"><ellipse/><text>→</text></g><g id="n19-2" class="g" transform="translate(136)"><ellipse/><text>→</text></g><g id="n19-3" class="g" transform="translate(188)"><ellipse/><text>→</text></g><g id="n19-4" class="d" transform="translate(240)"><ellipse/><text>→</text></g><g id="n19-5" class="d" transform="translate(292)"><ellipse/><text>→</text></g><g id="n19-6" class="d" transform="translate(344)"><ellipse/><text>→</text></g><g id="n19-7" class="d" transform="translate(396)"><ellipse/><text>→</text></g><g id="n19-8" class="d" transform="translate(448)"><ellipse/><text>→</text></g><g id="n19-9" class="d" transform="translate(500)"><ellipse/><text>→</text></g><g id="n19-10" class="d" transform="translate(552)"><ellipse/><text>→</text></g><g id="n19-11" class="d" transform="translate(604)"><ellipse/><text>→</text></g><g id="n19-12" class="d" transform="translate(656)"><ellipse/><text>→</text></g><g id="n19-13" class="d" transform="translate(708)"><ellipse/><text>→</text></g><g id="n19-14" class="d" transform="translate(760)"><ellipse/><text>→</text></g><g id="n19-15" class="d" transform="translate(812)"><ellipse/><text>→</text></g><g id="n19-16" class="g" transform="translate(864)"><ellipse/><text>→</text></g><g id="n19-17" class="g" transform="translate(916)"><ellipse/><text>→</text></g><g id="n19-18" class="d" transform="translate(968)"><ellipse/><text>→</text></g></g>
<g id="row20" transform="translate(0,1050)"><g id="n20-1" class="d" transform="translate(84)"><ellipse/><text>←</text></g><g id="n20-2" class="g" transform="translate(136)"><ellipse/><text>←</text></g><g id="n20-3" class="g" transform="translate(188)"><ellipse/><text>←</text></g><g id="n20-4" class="d" transform="translate(240)"><ellipse/><text>←</text></g><g id="n20-5" class="d" transform="translate(292)"><ellipse/><text>←</text></g><g id="n20-6" class="d" transform="translate(344)"><ellipse/><text>←</text></g><g id="n20-7" class="d" transform="translate(396)"><ellipse/><text>←</text></g><g id="n20-8" class="d" transform="translate(448)"><ellipse/><text>←</text></g><g id="n20-9" class="d" transform="translate(500)"><ellipse/><text>←</text></g><g id="n20-10" class="d" transform="translate(552)"><ellipse/><text>←</text></g><g id="n20-11" class="d" transform="translate(604)"><ellipse/><text>←</text></g><g id="n20-12" class="d" transform="translate(656)"><ellipse/><text>←</text></g><g id="n20-13" class="d" transform="translate(708)"><ellipse/><text>←</text></g><g id="n20-14" class="d" transform="translate(760)"><ellipse/><text>←</text></g><g id="n20-15" class="d" transform="translate(812)"><ellipse/><text>←</text></g><g id="n20-16" class="g" transform="translate(864)"><ellipse/><text>←</text></g><g id="n20-17" class="g" transform="translate(916)"><ellipse/><text>←</text></g><g id="n20-18" class="d" transform="translate(968)"><ellipse/><text>←</text></g></g>
<g id="row21" transform="translate(0,1102)"><g id="n21-1" class="d" transform="translate(84)"><ellipse/><text>→</text></g><g id="n21-2" class="g" transform="translate(136)"><ellipse/><text>→</text></g><g id="n21-3" class="g" transform="translate(188)"><ellipse/><text>→</text></g><g id="n21-4" class="g" transform="translate(240)"><ellipse/><text>→</text></g><g id="n21-5" class="g" transform="translate(292)"><ellipse/><text>→</text></g><g id="n21-6" class="g" transform="translate(344)"><ellipse/><text>→</text></g><g id="n21-7" class="g" transform="translate(396)"><ellipse/><text>→</text></g><g id="n21-8" class="g" transform="translate(448)"><ellipse/><text>→</text></g><g id="n21-9" class="g" transform="translate(500)"><ellipse/><text>→</text></g><g id="n21-10" class="g" transform="translate(552)"><ellipse/><text>→</text></g><g id="n21-11" class="g" transform="translate(604)"><ellipse/><text>→</text></g><g id="n21-12" class="g" transform="translate(656)"><ellipse/><text>→</text></g><g id="n21-13" class="g" transform="translate(708)"><ellipse/><text>→</text></g><g id="n21-14" class="g" transform="translate(760)"><ellipse/><text>→</text></g><g id="n21-15" class="g" transform="translate(812)"><ellipse/><text>→</text></g><g id="n21-16" class="g" transform="translate(864)"><ellipse/><text>→</text></g><g id="n21-17" class="g" transform="translate(916)"><ellipse/><text>→</text></g><g id="n21-18" class="d" transform="translate(968)"><ellipse/><text>→</text></g></g>
<g id="row22" transform="translate(0,1154)"><g id="n22-1" class="d" transform="translate(84)"><ellipse/><text>←</text></g><g id="n22-2" class="d" transform="translate(136)"><ellipse/><text>←</text></g><g id="n22-3" class="g" transform="translate(188)"><ellipse/><text>←</text></g><g id="n22-4" class="g" transform="translate(240)"><ellipse/><text>←</text></g><g id="n22-5" class="g" transform="translate(292)"><ellipse/><text>←</text></g><g id="n22-6" class="g" transform="translate(344)"><ellipse/><text>←</text></g><g id="n22-7" class="g" transform="translate(396)"><ellipse/><text>←</text></g><g id="n22-8" class="g" transform="translate(448)"><ellipse/><text>←</text></g><g id="n22-9" class="g" transform="translate(500)"><ellipse/><text>←</text></g><g id="n22-10" class="g" transform="translate(552)"><ellipse/><text>←</text></g><g id="n22-11" class="g" transform="translate(604)"><ellipse/><text>←</text></g><g id="n22-12" class="g" transform="translate(656)"><ellipse/><text>←</text></g><g id="n22-13" class="g" transform="translate(708)"><ellipse/><text>←</text></g><g id="n22-14" class="g" transform="translate(760)"><ellipse/><text>←</text></g><g id="n22-15" class="g" transform="translate(812)"><ellipse/><text>←</text></g><g id="n22-16" class="g" transform="translate(864)"><ellipse/><text>←</text></g><g id="n22-17" class="d" transform="translate(916)"><ellipse/><text>←</text></g><g id="n22-18" class="d" transform="translate(968)"><ellipse/><text>←</text></g></g>
<g id="row23" transform="translate(0,1206)"><g id="n23-1" class="d" transform="translate(84)"><ellipse/><text>→</text></g><g id="n23-2" class="d" transform="translate(136)"><ellipse/><text>→</text></g><g id="n23-3" class="d" transform="translate(188)"><ellipse/><text>→</text></g><g id="n23-4" class="d" transform="translate(240)"><ellipse/><text>→</text></g><g id="n23-5" class="d" transform="translate(292)"><ellipse/><text>→</text></g><g id="n23-6" class="d" transform="translate(344)"><ellipse/><text>→</text></g><g id="n23-7" class="d" transform="translate(396)"><ellipse/><text>→</text></g><g id="n23-8" class="d" transform="translate(448)"><ellipse/><text>→</text></g><g id="n23-9" class="d" transform="translate(500)"><ellipse/><text>→</text></g><g id="n23-10" class="d" transform="translate(552)"><ellipse/><text>→</text></g><g id="n23-11" class="d" transform="translate(604)"><ellipse/><text>→</text></g><g id="n23-12" class="d" transform="translate(656)"><ellipse/><text>→</text></g><g id="n23-13" class="d" transform="translate(708)"><ellipse/><text>→</text></g><g id="n23-14" class="d" transform="translate(760)"><ellipse/><text>→</text></g><g id="n23-15" class="d" transform="translate(812)"><ellipse/><text>→</text></g><g id="n23-16" class="d" transform="translate(864)"><ellipse/><text>→</text></g><g id="n23-17" class="d" transform="translate(916)"><ellipse/><text>→</text></g><g id="n23-18" class="d" transform="translate(968)"><ellipse/><text>→</text></g></g>
<g id="row24" transform="translate(0,1258)"><g id="n24-1" class="d" transform="translate(84)"><ellipse/><text>←</text></g><g id="n24-2" class="g" transform="translate(136)"><ellipse/><text>←</text></g><g id="n24-3" class="g" transform="translate(188)"><ellipse/><text>←</text></g><g id="n24-4" class="g" transform="translate(240)"><ellipse/><text>←</text></g><g id="n24-5" class="g" transform="translate(292)"><ellipse/><text>←</text></g><g id="n24-6" class="g" transform="translate(344)"><ellipse/><text>←</text></g><g id="n24-7" class="g" transform="translate(396)"><ellipse/><text>←</text></g><g id="n24-8" class="g" transform="translate(448)"><ellipse/><text>←</text></g><g id="n24-9" class="g" transform="translate(500)"><ellipse/><text>←</text></g><g id="n24-10" class="g" transform="translate(552)"><ellipse/><text>←</text></g><g id="n24-11" class="g" transform="translate(604)"><ellipse/><text>←</text></g><g id="n24-12" class="g" transform="translate(656)"><ellipse/><text>←</text></g><g id="n24-13" class="g" transform="translate(708)"><ellipse/><text>←</text></g><g id="n24-14" class="g" transform="translate(760)"><ellipse/><text>←</text></g><g id="n24-15" class="g" transform="translate(812)"><ellipse/><text>←</text></g><g id="n24-16" class="g" transform="translate(864)"><ellipse/><text>←</text></g><g id="n24-17" class="g" transform="translate(916)"><ellipse/><text>←</text></g><g id="n24-18" class="d" transform="translate(968)"><ellipse/><text>←</text></g></g>
<g id="row25" transform="translate(0,1310)"><g id="n25-1" class="d" transform="translate(84)"><ellipse/><text>→</text></g><g id="n25-2" class="g" transform="translate(136)"><ellipse/><text>→</text></g><g id="n25-3" class="g" transform="translate(188)"><ellipse/><text>→</text></g><g id="n25-4" class="g" transform="translate(240)"><ellipse/><text>→</text></g><g id="n25-5" class="g" transform="translate(292)"><ellipse/><text>→</text></g><g id="n25-6" class="g" transform="translate(344)"><ellipse/><text>→</text></g><g id="n25-7" class="g" transform="translate(396)"><ellipse/><text>→</text></g><g id="n25-8" class="g" transform="translate(448)"><ellipse/><text>→</text></g><g id="n25-9" class="g" transform="translate(500)"><ellipse/><text>→</text></g><g id="n25-10" class="g" transform="translate(552)"><ellipse/><text>→</text></g><g id="n25-11" class="g" transform="translate(604)"><ellipse/><text>→</text></g><g id="n25-12" class="g" transform="translate(656)"><ellipse/><text>→</text></g><g id="n25-13" class="g" transform="translate(708)"><ellipse/><text>→</text></g><g id="n25-14" class="g" transform="translate(760)"><ellipse/><text>→</text></g><g id="n25-15" class="g" transform="translate(812)"><ellipse/><text>→</text></g><g id="n25-16" class="g" transform="translate(864)"><ellipse/><text>→</text></g><g id="n25-17" class="g" transform="translate(916)"><ellipse/><text>→</text></g><g id="n25-18" class="d" transform="translate(968)"><ellipse/><text>→</text></g></g>
<g id="row26" transform="translate(0,1362)"><g id="n26-1" class="d" transform="translate(84)"><ellipse/><text>←</text></g><g id="n26-2" class="d" transform="translate(136)"><ellipse/><text>←</text></g><g id="n26-3" class="d" transform="translate(188)"><ellipse/><text>←</text></g><g id="n26-4" class="d" transform="translate(240)"><ellipse/><text>←</text></g><g id="n26-5" class="d" transform="translate(292)"><ellipse/><text>←</text></g><g id="n26-6" class="d" transform="translate(344)"><ellipse/><text>←</text></g><g id="n26-7" class="d" transform="translate(396)"><ellipse/><text>←</text></g><g id="n26-8" class="d" transform="translate(448)"><ellipse/><text>←</text></g><g id="n26-9" class="g" transform="translate(500)"><ellipse/><text>←</text></g><g id="n26-10" class="g" transform="translate(552)"><ellipse/><text>←</text></g><g id="n26-11" class="d" transform="translate(604)"><ellipse/><text>←</text></g><g id="n26-12" class="d" transform="translate(656)"><ellipse/><text>←</text></g><g id="n26-13" class="d" transform="translate(708)"><ellipse/><text>←</text></g><g id="n26-14" class="d" transform="translate(760)"><ellipse/><text>←</text></g><g id="n26-15" class="d" transform="translate(812)"><ellipse/><text>←</text></g><g id="n26-16" class="d" transform="translate(864)"><ellipse/><text>←</text></g><g id="n26-17" class="d" transform="translate(916)"><ellipse/><text>←</text></g><g id="n26-18" class="d" transform="translate(968)"><ellipse/><text>←</text></g></g>
<g id="row27" transform="translate(0,1414)"><g id="n27-1" class="d" transform="translate(84)"><ellipse/><text>→</text></g><g id="n27-2" class="d" transform="translate(136)"><ellipse/><text>→</text></g><g id="n27-3" class="d" transform="translate(188)"><ellipse/><text>→</text></g><g id="n27-4" class="d" transform="translate(240)"><ellipse/><text>→</text></g><g id="n27-5" class="d" transform="translate(292)"><ellipse/><text>→</text></g><g id="n27-6" class="d" transform="translate(344)"><ellipse/><text>→</text></g><g id="n27-7" class="d" transform="translate(396)"><ellipse/><text>→</text></g><g id="n27-8" class="d" transform="translate(448)"><ellipse/><text>→</text></g><g id="n27-9" class="g" transform="translate(500)"><ellipse/><text>→</text></g><g id="n27-10" class="g" transform="translate(552)"><ellipse/><text>→</text></g><g id="n27-11" class="d" transform="translate(604)"><ellipse/><text>→</text></g><g id="n27-12" class="d" transform="translate(656)"><ellipse/><text>→</text></g><g id="n27-13" class="d" transform="translate(708)"><ellipse/><text>→</text></g><g id="n27-14" class="d" transform="translate(760)"><ellipse/><text>→</text></g><g id="n27-15" class="d" transform="translate(812)"><ellipse/><text>→</text></g><g id="n27-16" class="d" transform="translate(864)"><ellipse/><text>→</text></g><g id="n27-17" class="d" transform="translate(916)"><ellipse/><text>→</text></g><g id="n27-18" class="d" transform="translate(968)"><ellipse/><text>→</text></g></g>
<g id="row28" transform="translate(0,1466)"><g id="n28-1" class="d" transform="translate(84)"><ellipse/><text>←</text></g><g id="n28-2" class="d" transform="translate(136)"><ellipse/><text>←</text></g><g id="n28-3" class="d" transform="translate(188)"><ellipse/><text>←</text></g><g id="n28-4" class="d" transform="translate(240)"><ellipse/><text>←</text></g><g id="n28-5" class="d" transform="translate(292)"><ellipse/><text>←</text></g><g id="n28-6" class="d" transform="translate(344)"><ellipse/><text>←</text></g><g id="n28-7" class="d" transform="translate(396)"><ellipse/><text>←</text></g><g id="n28-8" class="d" transform="translate(448)"><ellipse/><text>←</text></g><g id="n28-9" class="g" transform="translate(500)"><ellipse/><text>←</text></g><g id="n28-10" class="g" transform="translate(552)"><ellipse/><text>←</text></g><g id="n28-11" class="d" transform="translate(604)"><ellipse/><text>←</text></g><g id="n28-12" class="d" transform="translate(656)"><ellipse/><text>←</text></g><g id="n28-13" class="d" transform="translate(708)"><ellipse/><text>←</text></g><g id="n28-14" class="d" transform="translate(760)"><ellipse/><text>←</text></g><g id="n28-15" class="d" transform="translate(812)"><ellipse/><text>←</text></g><g id="n28-16" class="d" transform="translate(864)"><ellipse/><text>←</text></g><g id="n28-17" class="d" transform="translate(916)"><ellipse/><text>←</text></g><g id="n28-18" class="d" transform="translate(968)"><ellipse/><text>←</text></g></g>
<g id="row29" transform="translate(0,1518)"><g id="n29-1" class="d" transform="translate(84)"><ellipse/><text>→</text></g><g id="n29-2" class="d" transform="translate(136)"><ellipse/><text>→</text></g><g id="n29-3" class="d" transform="translate(188)"><ellipse/><text>→</text></g><g id="n29-4" class="d" transform="translate(240)"><ellipse/><text>→</text></g><g id="n29-5" class="d" transform="translate(292)"><ellipse/><text>→</text></g><g id="n29-6" class="d" transform="translate(344)"><ellipse/><text>→</text></g><g id="n29-7" class="d" transform="translate(396)"><ellipse/><text>→</text></g><g id="n29-8" class="d" transform="translate(448)"><ellipse/><text>→</text></g><g id="n29-9" class="g" transform="translate(500)"><ellipse/><text>→</text></g><g id="n29-10" class="g" transform="translate(552)"><ellipse/><text>→</text></g><g id="n29-11" class="d" transform="translate(604)"><ellipse/><text>→</text></g><g id="n29-12" class="d" transform="translate(656)"><ellipse/><text>→</text></g><g id="n29-13" class="d" transform="translate(708)"><ellipse/><text>→</text></g><g id="n29-14" class="d" transform="translate(760)"><ellipse/><text>→</text></g><g id="n29-15" class="d" transform="translate(812)"><ellipse/><text>→</text></g><g id="n29-16" class="d" transform="translate(864)"><ellipse/><text>→</text></g><g id="n29-17" class="d" transform="translate(916)"><ellipse/><text>→</text></g><g id="n29-18" class="d" transform="translate(968)"><ellipse/><text>→</text></g></g>
<g id="row30" transform="translate(0,1570)"><g id="n30-1" class="d" transform="translate(84)"><ellipse/><text>←</text></g><g id="n30-2" class="d" transform="translate(136)"><ellipse/><text>←</text></g><g id="n30-3" class="d" transform="translate(188)"><ellipse/><text>←</text></g><g id="n30-4" class="d" transform="translate(240)"><ellipse/><text>←</text></g><g id="n30-5" class="d" transform="translate(292)"><ellipse/><text>←</text></g><g id="n30-6" class="d" transform="translate(344)"><ellipse/><text>←</text></g><g id="n30-7" class="d" transform="translate(396)"><ellipse/><text>←</text></g><g id="n30-8" class="d" transform="translate(448)"><ellipse/><text>←</text></g><g id="n30-9" class="g" transform="translate(500)"><ellipse/><text>←</text></g><g id="n30-10" class="g" transform="translate(552)"><ellipse/><text>←</text></g><g id="n30-11" class="d" transform="translate(604)"><ellipse/><text>←</text></g><g id="n30-12" class="d" transform="translate(656)"><ellipse/><text>←</text></g><g id="n30-13" class="d" transform="translate(708)"><ellipse/><text>←</text></g><g id="n30-14" class="d" transform="translate(760)"><ellipse/><text>←</text></g><g id="n30-15" class="d" transform="translate(812)"><ellipse/><text>←</text></g><g id="n30-16" class="d" transform="translate(864)"><ellipse/><text>←</text></g><g id="n30-17" class="d" transform="translate(916)"><ellipse/><text>←</text></g><g id="n30-18" class="d" transform="translate(968)"><ellipse/><text>←</text></g></g>
<g id="row31" transform="translate(0,1622)"><g id="n31-1" class="d" transform="translate(84)"><ellipse/><text>→</text></g><g id="n31-2" class="d" transform="translate(136)"><ellipse/><text>→</text></g><g id="n31-3" class="d" transform="translate(188)"><ellipse/><text>→</text></g><g id="n31-4" class="d" transform="translate(240)"><ellipse/><text>→</text></g><g id="n31-5" class="d" transform="translate(292)"><ellipse/><text>→</text></g><g id="n31-6" class="d" transform="translate(344)"><ellipse/><text>→</text></g><g id="n31-7" class="d" transform="translate(396)"><ellipse/><text>→</text></g><g id="n31-8" class="d" transform="translate(448)"><ellipse/><text>→</text></g><g id="n31-9" class="g" transform="translate(500)"><ellipse/><text>→</text></g><g id="n31-10" class="g" transform="translate(552)"><ellipse/><text>→</text></g><g id="n31-11" class="d" transform="translate(604)"><ellipse/><text>→</text></g><g id="n31-12" class="d" transform="translate(656)"><ellipse/><text>→</text></g><g id="n31-13" class="d" transform="translate(708)"><ellipse/><text>→</text></g><g id="n31-14" class="d" transform="translate(760)"><ellipse/><text>→</text></g><g id="n31-15" class="d" transform="translate(812)"><ellipse/><text>→</text></g><g id="n31-16" class="d" transform="translate(864)"><ellipse/><text>→</text></g><g id="n31-17" class="d" transform="translate(916)"><ellipse/><text>→</text></g><g id="n31-18" class="d" transform="translate(968)"><ellipse/><text>→</text></g></g>
<g id="row32" transform="translate(0,1674)"><g id="n32-1" class="d" transform="translate(84)"><ellipse/><text>←</text></g><g id="n32-2" class="g" transform="translate(136)"><ellipse/><text>←</text></g><g id="n32-3" class="g" transform="translate(188)"><ellipse/><text>←</text></g><g id="n32-4" class="g" transform="translate(240)"><ellipse/><text>←</text></g><g id="n32-5" class="g" transform="translate(292)"><ellipse/><text>←</text></g><g id="n32-6" class="g" transform="translate(344)"><ellipse/><text>←</text></g><g id="n32-7" class="g" transform="translate(396)"><ellipse/><text>←</text></g><g id="n32-8" class="g" transform="translate(448)"><ellipse/><text>←</text></g><g id="n32-9" class="g" transform="translate(500)"><ellipse/><text>←</text></g><g id="n32-10" class="g" transform="translate(552)"><ellipse/><text>←</text></g><g id="n32-11" class="g" transform="translate(604)"><ellipse/><text>←</text></g><g id="n32-12" class="g" transform="translate(656)"><ellipse/><text>←</text></g><g id="n32-13" class="g" transform="translate(708)"><ellipse/><text>←</text></g><g id="n32-14" class="g" transform="translate(760)"><ellipse/><text>←</text></g><g id="n32-15" class="g" transform="translate(812)"><ellipse/><text>←</text></g><g id="n32-16" class="g" transform="translate(864)"><ellipse/><text>←</text></g><g id="n32-17" class="g" transform="translate(916)"><ellipse/><text>←</text></g><g id="n32-18" class="d" transform="translate(968)"><ellipse/><text>←</text></g></g>
<g id="row33" transform="translate(0,1726)"><g id="n33-1" class="d" transform="translate(84)"><ellipse/><text>→</text></g><g id="n33-2" class="g" transform="translate(136)"><ellipse/><text>→</text></g><g id="n33-3" class="g" transform="translate(188)"><ellipse/><text>→</text></g><g id="n33-4" class="g" transform="translate(240)"><ellipse/><text>→</text></g><g id="n33-5" class="g" transform="translate(292)"><ellipse/><text>→</text></g><g id="n33-6" class="g" transform="translate(344)"><ellipse/><text>→</text></g><g id="n33-7" class="g" transform="translate(396)"><ellipse/><text>→</text></g><g id="n33-8" class="g" transform="translate(448)"><ellipse/><text>→</text></g><g id="n33-9" class="g" transform="translate(500)"><ellipse/><text>→</text></g><g id="n33-10" class="g" transform="translate(552)"><ellipse/><text>→</text></g><g id="n33-11" class="g" transform="translate(604)"><ellipse/><text>→</text></g><g id="n33-12" class="g" transform="translate(656)"><ellipse/><text>→</text></g><g id="n33-13" class="g" transform="translate(708)"><ellipse/><text>→</text></g><g id="n33-14" class="g" transform="translate(760)"><ellipse/><text>→</text></g><g id="n33-15" class="g" transform="translate(812)"><ellipse/><text>→</text></g><g id="n33-16" class="g" transform="translate(864)"><ellipse/><text>→</text></g><g id="n33-17" class="g" transform="translate(916)"><ellipse/><text>→</text></g><g id="n33-18" class="d" transform="translate(968)"><ellipse/><text>→</text></g></g>
<g id="row34" transform="translate(0,1778)"><g id="n34-1" class="d" transform="translate(84)"><ellipse/><text>←</text></g><g id="n34-2" class="d" transform="translate(136)"><ellipse/><text>←</text></g><g id="n34-3" class="d" transform="translate(188)"><ellipse/><text>←</text></g><g id="n34-4" class="d" transform="translate(240)"><ellipse/><text>←</text></g><g id="n34-5" class="d" transform="translate(292)"><ellipse/><text>←</text></g><g id="n34-6" class="d" transform="translate(344)"><ellipse/><text>←</text></g><g id="n34-7" class="d" transform="translate(396)"><ellipse/><text>←</text></g><g id="n34-8" class="d" transform="translate(448)"><ellipse/><text>←</text></g><g id="n34-9" class="d" transform="translate(500)"><ellipse/><text>←</text></g><g id="n34-10" class="d" transform="translate(552)"><ellipse/><text>←</text></g><g id="n34-11" class="d" transform="translate(604)"><ellipse/><text>←</text></g><g id="n34-12" class="d" transform="translate(656)"><ellipse/><text>←</text></g><g id="n34-13" class="d" transform="translate(708)"><ellipse/><text>←</text></g><g id="n34-14" class="d" transform="translate(760)"><ellipse/><text>←</text></g><g id="n34-15" class="d" transform="translate(812)"><ellipse/><text>←</text></g><g id="n34-16" class="d" transform="translate(864)"><ellipse/><text>←</text></g><g id="n34-17" class="d" transform="translate(916)"><ellipse/><text>←</text></g><g id="n34-18" class="d" transform="translate(968)"><ellipse/><text>←</text></g></g>
<g id="row35" transform="translate(0,1830)"><g id="n35-1" class="d" transform="translate(84)"><ellipse/><text>→</text></g><g id="n35-2" class="g" transform="translate(136)"><ellipse/><text>→</text></g><g id="n35-3" class="g" transform="translate(188)"><ellipse/><text>→</text></g><g id="n35-4" class="d" transform="translate(240)"><ellipse/><text>→</text></g><g id="n35-5" class="g" transform="translate(292)"><ellipse/><text>→</text></g><g id="n35-6" class="g" transform="translate(344)"><ellipse/><text>→</text></g><g id="n35-7" class="g" transform="translate(396)"><ellipse/><text>→</text></g><g id="n35-8" class="g" transform="translate(448)"><ellipse/><text>→</text></g><g id="n35-9" class="g" transform="translate(500)"><ellipse/><text>→</text></g><g id="n35-10" class="g" transform="translate(552)"><ellipse/><text>→</text></g><g id="n35-11" class="g" transform="translate(604)"><ellipse/><text>→</text></g><g id="n35-12" class="g" transform="translate(656)"><ellipse/><text>→</text></g><g id="n35-13" class="g" transform="translate(708)"><ellipse/><text>→</text></g><g id="n35-14" class="g" transform="translate(760)"><ellipse/><text>→</text></g><g id="n35-15" class="g" transform="translate(812)"><ellipse/><text>→</text></g><g id="n35-16" class="g" transform="translate(864)"><ellipse/><text>→</text></g><g id="n35-17" class="g" transform="translate(916)"><ellipse/><text>→</text></g><g id="n35-18" class="d" transform="translate(968)"><ellipse/><text>→</text></g></g>
<g id="row36" transform="translate(0,1882)"><g id="n36-1" class="d" transform="translate(84)"><ellipse/><text>←</text></g><g id="n36-2" class="g" transform="translate(136)"><ellipse/><text>←</text></g><g id="n36-3" class="g" transform="translate(188)"><ellipse/><text>←</text></g><g id="n36-4" class="d" transform="translate(240)"><ellipse/><text>←</text></g><g id="n36-5" class="g" transform="translate(292)"><ellipse/><text>←</text></g><g id="n36-6" class="g" transform="translate(344)"><ellipse/><text>←</text></g><g id="n36-7" class="g" transform="translate(396)"><ellipse/><text>←</text></g><g id="n36-8" class="g" transform="translate(448)"><ellipse/><text>←</text></g><g id="n36-9" class="g" transform="translate(500)"><ellipse/><text>←</text></g><g id="n36-10" class="g" transform="translate(552)"><ellipse/><text>←</text></g><g id="n36-11" class="g" transform="translate(604)"><ellipse/><text>←</text></g><g id="n36-12" class="g" transform="translate(656)"><ellipse/><text>←</text></g><g id="n36-13" class="g" transform="translate(708)"><ellipse/><text>←</text></g><g id="n36-14" class="g" transform="translate(760)"><ellipse/><text>←</text></g><g id="n36-15" class="g" transform="translate(812)"><ellipse/><text>←</text></g><g id="n36-16" class="g" transform="translate(864)"><ellipse/><text>←</text></g><g id="n36-17" class="g" transform="translate(916)"><ellipse/><text>←</text></g><g id="n36-18" class="d" transform="translate(968)"><ellipse/><text>←</text></g></g>
<g id="row37" transform="translate(0,1934)"><g id="n37-1" class="d" transform="translate(84)"><ellipse/><text>→</text></g><g id="n37-2" class="d" transform="translate(136)"><ellipse/><text>→</text></g><g id="n37-3" class="d" transform="translate(188)"><ellipse/><text>→</text></g><g id="n37-4" class="d" transform="translate(240)"><ellipse/><text>→</text></g><g id="n37-5" class="d" transform="translate(292)"><ellipse/><text>→</text></g><g id="n37-6" class="d" transform="translate(344)"><ellipse/><text>→</text></g><g id="n37-7" class="d" transform="translate(396)"><ellipse/><text>→</text></g><g id="n37-8" class="d" transform="translate(448)"><ellipse/><text>→</text></g><g id="n37-9" class="d" transform="translate(500)"><ellipse/><text>→</text></g><g id="n37-10" class="d" transform="translate(552)"><ellipse/><text>→</text></g><g id="n37-11" class="d" transform="translate(604)"><ellipse/><text>→</text></g><g id="n37-12" class="d" transform="translate(656)"><ellipse/><text>→</text></g><g id="n37-13" class="d" transform="translate(708)"><ellipse/><text>→</text></g><g id="n37-14" class="d" transform="translate(760)"><ellipse/><text>→</text></g><g id="n37-15" class="d" transform="translate(812)"><ellipse/><text>→</text></g><g id="n37-16" class="d" transform="translate(864)"><ellipse/><text>→</text></g><g id="n37-17" class="d" transform="translate(916)"><ellipse/><text>→</text></g><g id="n37-18" class="d" transform="translate(968)"><ellipse/><text>→</text></g></g>
<g id="row38" transform="translate(0,1986)"><g id="n38-1" class="d" transform="translate(84)"><ellipse/><text>←</text></g><g id="n38-2" class="d" transform="translate(136)"><ellipse/><text>←</text></g><g id="n38-3" class="d" transform="translate(188)"><ellipse/><text>←</text></g><g id="n38-4" class="g" transform="translate(240)"><ellipse/><text>←</text></g><g id="n38-5" class="g" transform="translate(292)"><ellipse/><text>←</text></g><g id="n38-6" class="d" transform="translate(344)"><ellipse/><text>←</text></g><g id="n38-7" class="d" transform="translate(396)"><ellipse/><text>←</text></g><g id="n38-8" class="d" transform="translate(448)"><ellipse/><text>←</text></g><g id="n38-9" class="d" transform="translate(500)"><ellipse/><text>←</text></g><g id="n38-10" class="d" transform="translate(552)"><ellipse/><text>←</text></g><g id="n38-11" class="d" transform="translate(604)"><ellipse/><text>←</text></g><g id="n38-12" class="d" transform="translate(656)"><ellipse/><text>←</text></g><g id="n38-13" class="d" transform="translate(708)"><ellipse/><text>←</text></g><g id="n38-14" class="g" transform="translate(760)"><ellipse/><text>←</text></g><g id="n38-15" class="g" transform="translate(812)"><ellipse/><text>←</text></g><g id="n38-16" class="d" transform="translate(864)"><ellipse/><text>←</text></g><g id="n38-17" class="d" transform="translate(916)"><ellipse/><text>←</text></g><g id="n38-18" class="d" transform="translate(968)"><ellipse/><text>←</text></g></g>
<g id="row39" transform="translate(0,2038)"><g id="n39-1" class="d" transform="translate(84)"><ellipse/><text>→</text></g><g id="n39-2" class="d" transform="translate(136)"><ellipse/><text>→</text></g><g id="n39-3" class="g" transform="translate(188)"><ellipse/><text>→</text></g><g id="n39-4" class="g" transform="translate(240)"><ellipse/><text>→</text></g><g id="n39-5" class="g" transform="translate(292)"><ellipse/><text>→</text></g><g id="n39-6" class="d" transform="translate(344)"><ellipse/><text>→</text></g><g id="n39-7" class="d" transform="translate(396)"><ellipse/><text>→</text></g><g id="n39-8" class="d" transform="translate(448)"><ellipse/><text>→</text></g><g id="n39-9" class="d" transform="translate(500)"><ellipse/><text>→</text></g><g id="n39-10" class="d" transform="translate(552)"><ellipse/><text>→</text></g><g id="n39-11" class="d" transform="translate(604)"><ellipse/><text>→</text></g><g id="n39-12" class="d" transform="translate(656)"><ellipse/><text>→</text></g><g id="n39-13" class="d" transform="translate(708)"><ellipse/><text>→</text></g><g id="n39-14" class="g" transform="translate(760)"><ellipse/><text>→</text></g><g id="n39-15" class="g" transform="translate(812)"><ellipse/><text>→</text></g><g id="n39-16" class="g" transform="translate(864)"><ellipse/><text>→</text></g><g id="n39-17" class="d" transform="translate(916)"><ellipse/><text>→</text></g><g id="n39-18" class="d" transform="translate(968)"><ellipse/><text>→</text></g></g>
<g id="row40" transform="translate(0,2090)"><g id="n40-1" class="d" transform="translate(84)"><ellipse/><text>←</text></g><g id="n40-2" class="g" transform="translate(136)"><ellipse/><text>←</text></g><g id="n40-3" class="g" transform="translate(188)"><ellipse/><text>←</text></g><g id="n40-4" class="g" transform="translate(240)"><ellipse/><text>←</text></g><g id="n40-5" class="d" transform="translate(292)"><ellipse/><text>←</text></g><g id="n40-6" class="d" transform="translate(344)"><ellipse/><text>←</text></g><g id="n40-7" class="d" transform="translate(396)"><ellipse/><text>←</text></g><g id="n40-8" class="d" transform="translate(448)"><ellipse/><text>←</text></g><g id="n40-9" class="g" transform="translate(500)"><ellipse/><text>←</text></g><g id="n40-10" class="g" transform="translate(552)"><ellipse/><text>←</text></g><g id="n40-11" class="d" transform="translate(604)"><ellipse/><text>←</text></g><g id="n40-12" class="d" transform="translate(656)"><ellipse/><text>←</text></g><g id="n40-13" class="d" transform="translate(708)"><ellipse/><text>←</text></g><g id="n40-14" class="d" transform="translate(760)"><ellipse/><text>←</text></g><g id="n40-15" class="g" transform="translate(812)"><ellipse/><text>←</text></g><g id="n40-16" class="g" transform="translate(864)"><ellipse/><text>←</text></g><g id="n40-17" class="g" transform="translate(916)"><ellipse/><text>←</text></g><g id="n40-18" class="d" transform="translate(968)"><ellipse/><text>←</text></g></g>
<g id="row41" transform="translate(0,2142)"><g id="n41-1" class="d" transform="translate(84)"><ellipse/><text>→</text></g><g id="n41-2" class="g" transform="translate(136)"><ellipse/><text>→</text></g><g id="n41-3" class="g" transform="translate(188)"><ellipse/><text>→</text></g><g id="n41-4" class="d" transform="translate(240)"><ellipse/><text>→</text></g><g id="n41-5" class="d" transform="translate(292)"><ellipse/><text>→</text></g><g id="n41-6" class="d" transform="translate(344)"><ellipse/><text>→</text></g><g id="n41-7" class="d" transform="translate(396)"><ellipse/><text>→</text></g><g id="n41-8" class="d" transform="translate(448)"><ellipse/><text>→</text></g><g id="n41-9" class="g" transform="translate(500)"><ellipse/><text>→</text></g><g id="n41-10" class="g" transform="translate(552)"><ellipse/><text>→</text></g><g id="n41-11" class="d" transform="translate(604)"><ellipse/><text>→</text></g><g id="n41-12" class="d" transform="translate(656)"><ellipse/><text>→</text></g><g id="n41-13" class="d" transform="translate(708)"><ellipse/><text>→</text></g><g id="n41-14" class="d" transform="translate(760)"><ellipse/><text>→</text></g><g id="n41-15" class="d" transform="translate(812)"><ellipse/><text>→</text></g><g id="n41-16" class="g" transform="translate(864)"><ellipse/><text>→</text></g><g id="n41-17" class="g" transform="translate(916)"><ellipse/><text>→</text></g><g id="n41-18" class="d" transform="translate(968)"><ellipse/><text>→</text></g></g>
<g id="row42" transform="translate(0,2194)"><g id="n42-1" class="d" transform="translate(84)"><ellipse/><text>←</text></g><g id="n42-2" class="g" transform="translate(136)"><ellipse/><text>←</text></g><g id="n42-3" class="g" transform="translate(188)"><ellipse/><text>←</text></g><g id="n42-4" class="d" transform="translate(240)"><ellipse/><text>←</text></g><g id="n42-5" class="d" transform="translate(292)"><ellipse/><text>←</text></g><g id="n42-6" class="d" transform="translate(344)"><ellipse/><text>←</text></g><g id="n42-7" class="d" transform="translate(396)"><ellipse/><text>←</text></g><g id="n42-8" class="d" transform="translate(448)"><ellipse/><text>←</text></g><g id="n42-9" class="g" transform="translate(500)"><ellipse/><text>←</text></g><g id="n42-10" class="g" transform="translate(552)"><ellipse/><text>←</text></g><g id="n42-11" class="d" transform="translate(604)"><ellipse/><text>←</text></g><g id="n42-12" class="d" transform="translate(656)"><ellipse/><text>←</text></g><g id="n42-13" class="d" transform="translate(708)"><ellipse/><text>←</text></g><g id="n42-14" class="d" transform="translate(760)"><ellipse/><text>←</text></g><g id="n42-15" class="d" transform="translate(812)"><ellipse/><text>←</text></g><g id="n42-16" class="g" transform="translate(864)"><ellipse/><text>←</text></g><g id="n42-17" class="g" transform="translate(916)"><ellipse/><text>←</text></g><g id="n42-18" class="d" transform="translate(968)"><ellipse/><text>←</text></g></g>
<g id="row43" transform="translate(0,2246)"><g id="n43-1" class="d" transform="translate(84)"><ellipse/><text>→</text></g><g id="n43-2" class="g" transform="translate(136)"><ellipse/><text>→</text></g><g id="n43-3" class="g" transform="translate(188)"><ellipse/><text>→</text></g><g id="n43-4" class="d" transform="translate(240)"><ellipse/><text>→</text></g><g id="n43-5" class="d" transform="translate(292)"><ellipse/><text>→</text></g><g id="n43-6" class="d" transform="translate(344)"><ellipse/><text>→</text></g><g id="n43-7" class="d" transform="translate(396)"><ellipse/><text>→</text></g><g id="n43-8" class="d" transform="translate(448)"><ellipse/><text>→</text></g><g id="n43-9" class="g" transform="translate(500)"><ellipse/><text>→</text></g><g id="n43-10" class="g" transform="translate(552)"><ellipse/><text>→</text></g><g id="n43-11" class="d" transform="translate(604)"><ellipse/><text>→</text></g><g id="n43-12" class="d" transform="translate(656)"><ellipse/><text>→</text></g><g id="n43-13" class="d" transform="translate(708)"><ellipse/><text>→</text></g><g id="n43-14" class="d" transform="translate(760)"><ellipse/><text>→</text></g><g id="n43-15" class="d" transform="translate(812)"><ellipse/><text>→</text></g><g id="n43-16" class="g" transform="translate(864)"><ellipse/><text>→</text></g><g id="n43-17" class="g" transform="translate(916)"><ellipse/><text>→</text></g><g id="n43-18" class="d" transform="translate(968)"><ellipse/><text>→</text></g></g>
<g id="row44" transform="translate(0,2298)"><g id="n44-1" class="d" transform="translate(84)"><ellipse/><text>←</text></g><g id="n44-2" class="g" transform="translate(136)"><ellipse/><text>←</text></g><g id="n44-3" class="g" transform="translate(188)"><ellipse/><text>←</text></g><g id="n44-4" class="d" transform="translate(240)"><ellipse/><text>←</text></g><g id="n44-5" class="d" transform="translate(292)"><ellipse/><text>←</text></g><g id="n44-6" class="d" transform="translate(344)"><ellipse/><text>←</text></g><g id="n44-7" class="d" transform="translate(396)"><ellipse/><text>←</text></g><g id="n44-8" class="d" transform="translate(448)"><ellipse/><text>←</text></g><g id="n44-9" class="g" transform="translate(500)"><ellipse/><text>←</text></g><g id="n44-10" class="g" transform="translate(552)"><ellipse/><text>←</text></g><g id="n44-11" class="d" transform="translate(604)"><ellipse/><text>←</text></g><g id="n44-12" class="d" transform="translate(656)"><ellipse/><text>←</text></g><g id="n44-13" class="d" transform="translate(708)"><ellipse/><text>←</text></g><g id="n44-14" class="d" transform="translate(760)"><ellipse/><text>←</text></g><g id="n44-15" class="d" transform="translate(812)"><ellipse/><text>←</text></g><g id="n44-16" class="g" transform="translate(864)"><ellipse/><text>←</text></g><g id="n44-17" class="g" transform="translate(916)"><ellipse/><text>←</text></g><g id="n44-18" class="d" transform="translate(968)"><ellipse/><text>←</text></g></g>
<g id="row45" transform="translate(0,2350)"><g id="n45-1" class="d" transform="translate(84)"><ellipse/><text>→</text></g><g id="n45-2" class="g" transform="translate(136)"><ellipse/><text>→</text></g><g id="n45-3" class="g" transform="translate(188)"><ellipse/><text>→</text></g><g id="n45-4" class="g" transform="translate(240)"><ellipse/><text>→</text></g><g id="n45-5" class="d" transform="translate(292)"><ellipse/><text>→</text></g><g id="n45-6" class="d" transform="translate(344)"><ellipse/><text>→</text></g><g id="n45-7" class="d" transform="translate(396)"><ellipse/><text>→</text></g><g id="n45-8" class="g" transform="translate(448)"><ellipse/><text>→</text></g><g id="n45-9" class="g" transform="translate(500)"><ellipse/><text>→</text></g><g id="n45-10" class="g" transform="translate(552)"><ellipse/><text>→</text></g><g id="n45-11" class="g" transform="translate(604)"><ellipse/><text>→</text></g><g id="n45-12" class="d" transform="translate(656)"><ellipse/><text>→</text></g><g id="n45-13" class="d" transform="translate(708)"><ellipse/><text>→</text></g><g id="n45-14" class="d" transform="translate(760)"><ellipse/><text>→</text></g><g id="n45-15" class="g" transform="translate(812)"><ellipse/><text>→</text></g><g id="n45-16" class="g" transform="translate(864)"><ellipse/><text>→</text></g><g id="n45-17" class="g" transform="translate(916)"><ellipse/><text>→</text></g><g id="n45-18" class="d" transform="translate(968)"><ellipse/><text>→</text></g></g>
<g id="row46" transform="translate(0,2402)"><g id="n46-1" class="d" transform="translate(84)"><ellipse/><text>←</text></g><g id="n46-2" class="d" transform="translate(136)"><ellipse/><text>←</text></g><g id="n46-3" class="g" transform="translate(188)"><ellipse/><text>←</text></g><g id="n46-4" class="g" transform="translate(240)"><ellipse/><text>←</text></g><g id="n46-5" class="g" transform="translate(292)"><ellipse/><text>←</text></g><g id="n46-6" class="g" transform="translate(344)"><ellipse/><text>←</text></g><g id="n46-7" class="g" transform="translate(396)"><ellipse/><text>←</text></g><g id="n46-8" class="g" transform="translate(448)"><ellipse/><text>←</text></g><g id="n46-9" class="g" transform="translate(500)"><ellipse/><text>←</text></g><g id="n46-10" class="g" transform="translate(552)"><ellipse/><text>←</text></g><g id="n46-11" class="g" transform="translate(604)"><ellipse/><text>←</text></g><g id="n46-12" class="g" transform="translate(656)"><ellipse/><text>←</text></g><g id="n46-13" class="g" transform="translate(708)"><ellipse/><text>←</text></g><g id="n46-14" class="g" transform="translate(760)"><ellipse/><text>←</text></g><g id="n46-15" class="g" transform="translate(812)"><ellipse/><text>←</text></g><g id="n46-16" class="g" transform="translate(864)"><ellipse/><text>←</text></g><g id="n46-17" class="d" transform="translate(916)"><ellipse/><text>←</text></g><g id="n46-18" class="d" transform="translate(968)"><ellipse/><text>←</text></g></g>
<g id="row47" transform="translate(0,2454)"><g id="n47-1" class="d" transform="translate(84)"><ellipse/><text>→</text></g><g id="n47-2" class="d" transform="translate(136)"><ellipse/><text>→</text></g><g id="n47-3" class="d" transform="translate(188)"><ellipse/><text>→</text></g><g id="n47-4" class="g" transform="translate(240)"><ellipse/><text>→</text></g><g id="n47-5" class="g" transform="translate(292)"><ellipse/><text>→</text></g><g id="n47-6" class="g" transform="translate(344)"><ellipse/><text>→</text></g><g id="n47-7" class="g" transform="translate(396)"><ellipse/><text>→</text></g><g id="n47-8" class="g" transform="translate(448)"><ellipse/><text>→</text></g><g id="n47-9" class="d" transform="translate(500)"><ellipse/><text>→</text></g><g id="n47-10" class="d" transform="translate(552)"><ellipse/><text>→</text></g><g id="n47-11" class="g" transform="translate(604)"><ellipse/><text>→</text></g><g id="n47-12" class="g" transform="translate(656)"><ellipse/><text>→</text></g><g id="n47-13" class="g" transform="translate(708)"><ellipse/><text>→</text></g><g id="n47-14" class="g" transform="translate(760)"><ellipse/><text>→</text></g><g id="n47-15" class="g" transform="translate(812)"><ellipse/><text>→</text></g><g id="n47-16" class="d" transform="translate(864)"><ellipse/><text>→</text></g><g id="n47-17" class="d" transform="translate(916)"><ellipse/><text>→</text></g><g id="n47-18" class="d" transform="translate(968)"><ellipse/><text>→</text></g></g>
<g id="row48" transform="translate(0,2506)"><g id="n48-1" class="d" transform="translate(84)"><ellipse/><text>←</text></g><g id="n48-2" class="d" transform="translate(136)"><ellipse/><text>←</text></g><g id="n48-3" class="d" transform="translate(188)"><ellipse/><text>←</text></g><g id="n48-4" class="d" transform="translate(240)"><ellipse/><text>←</text></g><g id="n48-5" class="d" transform="translate(292)"><ellipse/><text>←</text></g><g id="n48-6" class="d" transform="translate(344)"><ellipse/><text>←</text></g><g id="n48-7" class="d" transform="translate(396)"><ellipse/><text>←</text></g><g id="n48-8" class="d" transform="translate(448)"><ellipse/><text>←</text></g><g id="n48-9" class="d" transform="translate(500)"><ellipse/><text>←</text></g><g id="n48-10" class="d" transform="translate(552)"><ellipse/><text>←</text></g><g id="n48-11" class="d" transform="translate(604)"><ellipse/><text>←</text></g><g id="n48-12" class="d" transform="translate(656)"><ellipse/><text>←</text></g><g id="n48-13" class="d" transform="translate(708)"><ellipse/><text>←</text></g><g id="n48-14" class="d" transform="translate(760)"><ellipse/><text>←</text></g><g id="n48-15" class="d" transform="translate(812)"><ellipse/><text>←</text></g><g id="n48-16" class="d" transform="translate(864)"><ellipse/><text>←</text></g><g id="n48-17" class="d" transform="translate(916)"><ellipse/><text>←</text></g><g id="n48-18" class="d" transform="translate(968)"><ellipse/><text>←</text></g></g>
</g>
<g id="watermark">
<rect x="443" y="1277" width="167" height="12" fill="#fff"/>
<text x="526" y="1289.5" text-anchor="middle" textLength="154" lengthAdjust="spacingAndGlyphs" style="font:bold 15.5px 'Liberation Sans',Arial,sans-serif" fill="#4a4a4a">BRACELETBOOK.COM</text>
</g>
</svg>
